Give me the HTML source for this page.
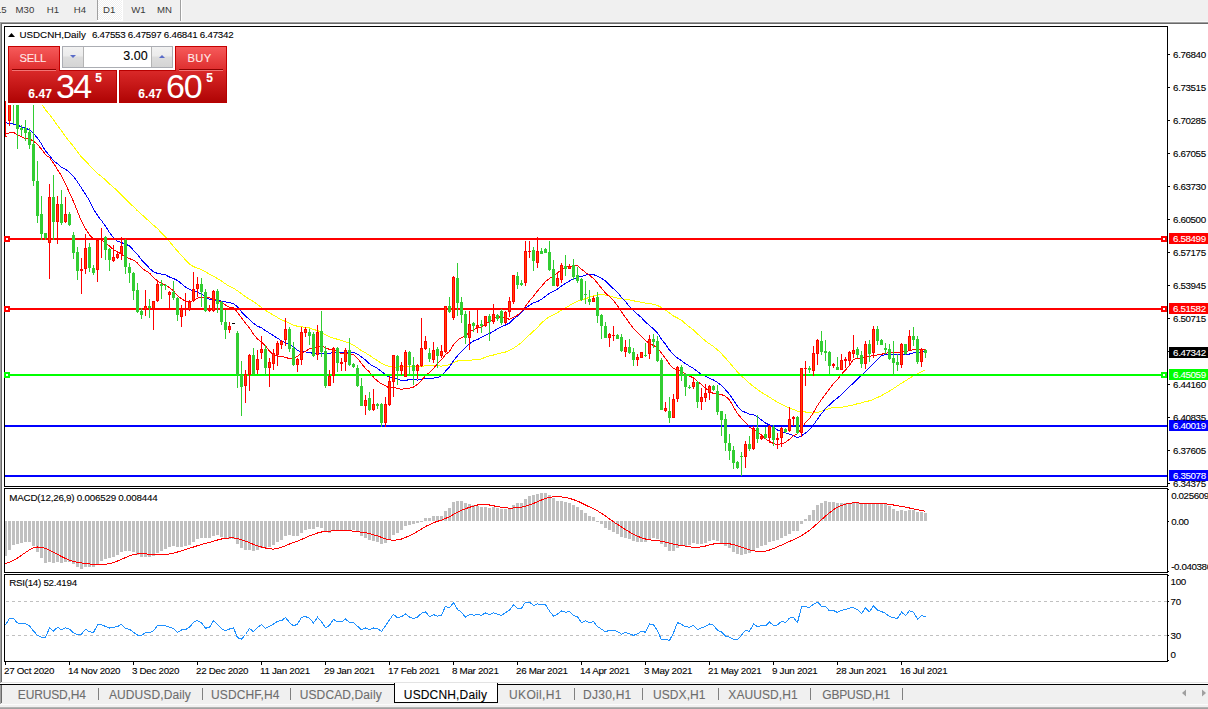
<!DOCTYPE html>
<html><head><meta charset="utf-8"><title>USDCNH,Daily</title>
<style>
html,body{margin:0;padding:0;background:#fff;width:1208px;height:709px;overflow:hidden;position:relative}
.ns{-webkit-text-stroke:0 !important}
.t{position:absolute;white-space:nowrap;font-family:"Liberation Sans",sans-serif;line-height:1;-webkit-text-stroke:0.1px currentColor}
</style></head><body>
<svg width="1208" height="709" viewBox="0 0 1208 709" shape-rendering="crispEdges" style="position:absolute;left:0;top:0">
<rect x="0" y="0" width="1208" height="22" fill="#f0f0f0"/>
<defs><pattern id="chk" width="2" height="2" patternUnits="userSpaceOnUse"><rect width="2" height="2" fill="#f0f0f0"/><rect width="1" height="1" fill="#ffffff"/><rect x="1" y="1" width="1" height="1" fill="#ffffff"/></pattern>
<linearGradient id="gsellTop" x1="0" y1="0" x2="0" y2="1"><stop offset="0" stop-color="#f65a5a"/><stop offset="1" stop-color="#de2e2e"/></linearGradient>
<linearGradient id="gprice" x1="0" y1="0" x2="0" y2="1"><stop offset="0" stop-color="#d92828"/><stop offset="1" stop-color="#b00404"/></linearGradient>
<linearGradient id="gbtn" x1="0" y1="0" x2="0" y2="1"><stop offset="0" stop-color="#f2f2f2"/><stop offset="0.45" stop-color="#ebebeb"/><stop offset="0.5" stop-color="#dddddd"/><stop offset="1" stop-color="#d4d4d4"/></linearGradient>
<clipPath id="cmain"><rect x="5" y="27" width="1162" height="459"/></clipPath>
<clipPath id="cmacd"><rect x="5" y="489" width="1162" height="83"/></clipPath>
<clipPath id="crsi"><rect x="5" y="575" width="1162" height="86"/></clipPath>
</defs>
<rect x="97" y="0" width="1" height="20" fill="#a0a0a0"/>
<rect x="98" y="0" width="24" height="20" fill="url(#chk)"/>
<rect x="122" y="0" width="1" height="21" fill="#ffffff"/>
<rect x="97" y="20" width="26" height="1" fill="#ffffff"/>
<rect x="180" y="0" width="1" height="21" fill="#a0a0a0"/>
<rect x="181" y="0" width="1" height="21" fill="#ffffff"/>
<rect x="0" y="21" width="1208" height="1" fill="#f8f8f8"/>
<rect x="0" y="22" width="1208" height="1" fill="#a0a0a0"/>
<rect x="1" y="23" width="1207" height="1" fill="#696969"/>
<rect x="0" y="22" width="1" height="661" fill="#a0a0a0"/>
<rect x="1" y="23" width="1" height="659" fill="#696969"/>
<rect x="1" y="682" width="1207" height="1" fill="#e3e3e3"/>
<rect x="4.5" y="26.5" width="1163" height="460" fill="none" stroke="#000" stroke-width="1"/>
<rect x="4.5" y="488.5" width="1163" height="84" fill="none" stroke="#000" stroke-width="1"/>
<rect x="4.5" y="574.5" width="1163" height="87" fill="none" stroke="#000" stroke-width="1"/>
<g clip-path="url(#cmain)">
<polyline points="5.5,76.8 9.5,79.0 13.5,81.0 17.5,83.5 21.5,85.9 25.5,88.1 29.5,90.9 33.5,93.8 37.5,98.4 41.5,103.6 45.5,109.8 49.5,114.5 53.5,119.9 57.5,125.5 61.5,130.9 65.5,136.5 69.5,141.6 73.5,146.3 77.5,152.0 81.5,157.0 85.5,160.9 89.5,165.3 93.5,169.4 97.5,173.4 101.5,176.6 105.5,179.9 109.5,183.9 113.5,187.3 117.5,190.9 121.5,194.8 125.5,198.9 129.5,203.0 133.5,206.7 137.5,210.8 141.5,214.4 145.5,217.9 149.5,221.6 153.5,225.2 157.5,228.6 161.5,233.0 165.5,236.8 169.5,241.6 173.5,246.4 177.5,251.1 181.5,255.6 185.5,259.9 189.5,263.9 193.5,266.6 197.5,268.2 201.5,269.7 205.5,271.5 209.5,274.3 213.5,276.1 217.5,278.6 221.5,281.0 225.5,283.9 229.5,286.4 233.5,288.2 237.5,290.8 241.5,293.8 245.5,296.9 249.5,299.1 253.5,301.6 257.5,304.6 261.5,307.4 265.5,310.3 269.5,312.9 273.5,315.2 277.5,317.5 281.5,319.9 285.5,321.4 289.5,323.3 293.5,325.1 297.5,326.3 301.5,326.8 305.5,327.3 309.5,328.0 313.5,329.4 317.5,330.6 321.5,332.2 325.5,334.8 329.5,336.9 333.5,338.1 337.5,339.3 341.5,340.6 345.5,341.7 349.5,343.2 353.5,345.2 357.5,347.8 361.5,350.6 365.5,352.8 369.5,355.4 373.5,358.2 377.5,360.7 381.5,363.2 385.5,365.1 389.5,366.5 393.5,367.3 397.5,367.2 401.5,366.6 405.5,366.1 409.5,366.3 413.5,366.2 417.5,366.4 421.5,366.4 425.5,365.7 429.5,365.6 433.5,365.6 437.5,365.9 441.5,366.1 445.5,365.6 449.5,364.6 453.5,362.4 457.5,361.0 461.5,360.6 465.5,360.8 469.5,360.5 473.5,359.8 477.5,359.6 481.5,358.9 485.5,357.2 489.5,355.9 493.5,355.0 497.5,353.9 501.5,352.9 505.5,352.0 509.5,350.4 513.5,348.1 517.5,345.6 521.5,342.5 525.5,338.8 529.5,334.8 533.5,331.2 537.5,327.4 541.5,323.1 545.5,319.4 549.5,316.6 553.5,314.9 557.5,312.6 561.5,310.1 565.5,308.0 569.5,305.5 573.5,303.1 577.5,301.1 581.5,299.9 585.5,298.7 589.5,297.3 593.5,296.0 597.5,295.0 601.5,294.4 605.5,295.1 609.5,295.7 613.5,297.1 617.5,298.1 621.5,298.9 625.5,299.2 629.5,299.9 633.5,300.8 637.5,301.6 641.5,302.2 645.5,303.2 649.5,303.6 653.5,304.3 657.5,305.4 661.5,307.6 665.5,309.9 669.5,312.9 673.5,316.0 677.5,318.0 681.5,320.3 685.5,323.7 689.5,327.1 693.5,330.1 697.5,333.9 701.5,337.5 705.5,341.0 709.5,343.9 713.5,346.5 717.5,349.8 721.5,353.7 725.5,358.1 729.5,362.7 733.5,367.3 737.5,372.0 741.5,375.9 745.5,379.6 749.5,383.3 753.5,386.6 757.5,389.6 761.5,392.4 765.5,394.9 769.5,397.2 773.5,399.8 777.5,402.3 781.5,404.2 785.5,406.4 789.5,408.0 793.5,409.4 797.5,411.3 801.5,411.7 805.5,412.0 809.5,412.8 813.5,413.1 817.5,412.6 821.5,411.1 825.5,409.7 829.5,408.4 833.5,407.6 837.5,407.6 841.5,407.2 845.5,406.6 849.5,405.6 853.5,404.9 857.5,403.7 861.5,402.9 865.5,401.6 869.5,400.8 873.5,399.3 877.5,397.5 881.5,395.6 885.5,393.3 889.5,391.0 893.5,388.5 897.5,385.9 901.5,383.1 905.5,380.9 909.5,378.1 913.5,375.9 917.5,373.9 921.5,371.8 925.5,369.6" fill="none" stroke="#ffff00" stroke-width="1"/>
<polyline points="5.5,122.9 9.5,123.3 13.5,124.0 17.5,124.9 21.5,127.2 25.5,128.3 29.5,129.7 33.5,133.5 37.5,138.1 41.5,144.0 45.5,151.0 49.5,155.4 53.5,160.8 57.5,163.8 61.5,167.4 65.5,169.3 69.5,172.2 73.5,176.5 77.5,182.0 81.5,187.9 85.5,194.4 89.5,200.6 93.5,208.9 97.5,215.4 101.5,220.6 105.5,226.3 109.5,232.4 113.5,237.7 117.5,241.2 121.5,242.6 125.5,244.2 129.5,245.8 133.5,250.3 137.5,254.6 141.5,259.9 145.5,263.8 149.5,268.3 153.5,271.9 157.5,273.4 161.5,274.1 165.5,274.9 169.5,277.0 173.5,278.5 177.5,280.5 181.5,283.7 185.5,287.1 189.5,289.5 193.5,290.9 197.5,292.2 201.5,294.0 205.5,297.1 209.5,299.1 213.5,300.0 217.5,300.6 221.5,301.1 225.5,301.8 229.5,302.7 233.5,303.5 237.5,307.0 241.5,311.9 245.5,316.1 249.5,319.4 253.5,323.3 257.5,326.2 261.5,327.8 265.5,330.6 269.5,333.2 273.5,335.6 277.5,338.2 281.5,340.9 285.5,342.6 289.5,344.5 293.5,347.1 297.5,350.4 301.5,351.7 305.5,352.0 309.5,352.3 313.5,353.7 317.5,354.2 321.5,353.1 325.5,353.0 329.5,353.1 333.5,352.8 337.5,352.3 341.5,352.4 345.5,352.5 349.5,352.3 353.5,352.5 357.5,354.1 361.5,357.1 365.5,359.9 369.5,363.8 373.5,366.4 377.5,368.4 381.5,371.4 385.5,374.8 389.5,377.3 393.5,378.2 397.5,378.9 401.5,380.5 405.5,380.5 409.5,379.5 413.5,379.3 417.5,380.1 421.5,379.4 425.5,378.4 429.5,378.8 433.5,378.1 437.5,377.5 441.5,375.9 445.5,371.1 449.5,366.9 453.5,360.6 457.5,355.8 461.5,351.5 465.5,347.4 469.5,343.6 473.5,341.0 477.5,339.5 481.5,337.4 485.5,335.1 489.5,333.6 493.5,331.2 497.5,328.7 501.5,326.7 505.5,325.0 509.5,323.1 513.5,319.1 517.5,316.0 521.5,312.6 525.5,307.9 529.5,305.3 533.5,302.8 537.5,301.6 541.5,299.3 545.5,296.3 549.5,293.1 553.5,291.3 557.5,289.0 561.5,286.1 565.5,283.4 569.5,281.0 573.5,278.9 577.5,277.3 581.5,276.4 585.5,275.1 589.5,274.6 593.5,274.5 597.5,276.4 601.5,278.4 605.5,280.9 609.5,284.8 613.5,288.8 617.5,292.5 621.5,297.3 625.5,301.7 629.5,306.5 633.5,310.8 637.5,314.2 641.5,317.7 645.5,322.0 649.5,325.4 653.5,329.0 657.5,333.0 661.5,339.1 665.5,344.3 669.5,350.1 673.5,354.7 677.5,358.0 681.5,360.8 685.5,363.7 689.5,366.1 693.5,368.4 697.5,371.6 701.5,374.4 705.5,376.4 709.5,378.2 713.5,380.0 717.5,382.5 721.5,385.5 725.5,389.8 729.5,394.3 733.5,400.2 737.5,406.2 741.5,410.8 745.5,412.4 749.5,414.4 753.5,414.8 757.5,416.7 761.5,420.0 765.5,423.0 769.5,424.9 773.5,427.4 777.5,430.0 781.5,431.3 785.5,432.9 789.5,434.2 793.5,435.6 797.5,437.7 801.5,435.6 805.5,433.1 809.5,429.6 813.5,425.0 817.5,419.1 821.5,413.6 825.5,408.6 829.5,404.9 833.5,400.9 837.5,398.1 841.5,394.4 845.5,390.7 849.5,386.6 853.5,383.0 857.5,378.9 861.5,375.4 865.5,371.4 869.5,367.7 873.5,363.4 877.5,359.8 881.5,355.6 885.5,354.7 889.5,354.3 893.5,354.0 897.5,354.5 901.5,354.7 905.5,354.8 909.5,354.0 913.5,352.8 917.5,352.7 921.5,351.7 925.5,351.4" fill="none" stroke="#0000ff" stroke-width="1"/>
<polyline points="5.5,134.3 9.5,132.8 13.5,132.3 17.5,135.0 21.5,136.9 25.5,138.6 29.5,138.9 33.5,141.2 37.5,144.3 41.5,149.2 45.5,154.7 49.5,157.6 53.5,163.1 57.5,169.6 61.5,175.9 65.5,184.0 69.5,192.7 73.5,201.6 77.5,211.6 81.5,221.4 85.5,228.7 89.5,234.9 93.5,239.0 97.5,239.4 101.5,239.4 105.5,243.2 109.5,245.9 113.5,249.7 117.5,251.9 121.5,254.2 125.5,257.2 129.5,258.6 133.5,260.1 137.5,263.1 141.5,267.9 145.5,270.6 149.5,273.1 153.5,277.5 157.5,280.8 161.5,283.4 165.5,285.2 169.5,287.7 173.5,290.9 177.5,295.8 181.5,298.8 185.5,301.3 189.5,302.1 193.5,300.4 197.5,298.2 201.5,297.2 205.5,297.4 209.5,298.0 213.5,298.5 217.5,299.8 221.5,302.4 225.5,305.1 229.5,307.1 233.5,307.6 237.5,312.4 241.5,318.0 245.5,323.1 249.5,327.9 253.5,334.3 257.5,339.1 261.5,341.8 265.5,346.0 269.5,351.1 273.5,354.6 277.5,356.1 281.5,356.9 285.5,357.1 289.5,358.9 293.5,358.2 297.5,356.2 301.5,353.2 305.5,351.4 309.5,348.6 313.5,348.4 317.5,347.2 321.5,346.1 325.5,347.8 329.5,349.4 333.5,349.8 337.5,351.4 341.5,353.7 345.5,353.8 349.5,353.8 353.5,354.4 357.5,358.2 361.5,363.7 365.5,368.3 369.5,372.1 373.5,377.3 377.5,381.1 381.5,383.8 385.5,385.8 389.5,388.1 393.5,387.6 397.5,388.2 401.5,389.3 405.5,388.4 409.5,388.2 413.5,387.1 417.5,384.2 421.5,380.5 425.5,375.6 429.5,372.4 433.5,368.4 437.5,363.6 441.5,359.8 445.5,354.4 449.5,351.4 453.5,344.6 457.5,340.2 461.5,337.6 465.5,335.6 469.5,332.3 473.5,329.5 477.5,327.9 481.5,326.8 485.5,323.7 489.5,321.7 493.5,318.7 497.5,316.4 501.5,317.6 505.5,317.6 509.5,319.4 513.5,317.4 517.5,315.2 521.5,311.4 525.5,306.2 529.5,300.9 533.5,296.3 537.5,290.9 541.5,286.5 545.5,281.6 549.5,278.4 553.5,276.1 557.5,272.9 561.5,269.5 565.5,267.2 569.5,266.6 573.5,266.0 577.5,265.7 581.5,269.2 585.5,272.4 589.5,275.3 593.5,278.6 597.5,283.1 601.5,288.3 605.5,293.1 609.5,296.6 613.5,300.6 617.5,305.9 621.5,311.8 625.5,317.6 629.5,323.0 633.5,328.6 637.5,332.7 641.5,336.8 645.5,340.6 649.5,343.6 653.5,345.4 657.5,347.9 661.5,353.1 665.5,358.4 669.5,364.3 673.5,368.6 677.5,369.7 681.5,371.7 685.5,374.1 689.5,376.1 693.5,377.9 697.5,381.5 701.5,384.4 705.5,388.3 709.5,391.4 713.5,393.5 717.5,393.6 721.5,394.5 725.5,396.3 729.5,400.0 733.5,406.9 737.5,413.5 741.5,418.5 745.5,422.5 749.5,427.3 753.5,429.1 757.5,432.1 761.5,435.2 765.5,438.9 769.5,441.5 773.5,443.5 777.5,444.8 781.5,443.7 785.5,442.4 789.5,439.2 793.5,435.6 797.5,433.9 801.5,428.4 805.5,422.6 809.5,418.5 813.5,412.4 817.5,405.5 821.5,399.4 825.5,394.1 829.5,388.9 833.5,383.6 837.5,379.4 841.5,374.3 845.5,370.0 849.5,365.4 853.5,359.4 857.5,358.5 861.5,358.2 865.5,356.4 869.5,356.4 873.5,355.6 877.5,354.9 881.5,354.3 885.5,353.1 889.5,352.8 893.5,352.3 897.5,352.6 901.5,351.6 905.5,351.7 909.5,350.7 913.5,349.6 917.5,349.5 921.5,349.9 925.5,349.8" fill="none" stroke="#ff0000" stroke-width="1"/>
<rect x="10" y="238" width="1151" height="2" fill="#ff0000"/>
<rect x="10" y="308" width="1151" height="2" fill="#ff0000"/>
<rect x="10" y="374" width="1151" height="2" fill="#00ff00"/>
<rect x="5" y="425" width="1162" height="2" fill="#0000ff"/>
<rect x="5" y="475" width="1162" height="2" fill="#0000ff"/>
<path d="M4 236h6v6h-6z M6 238v2h2v-2z" fill="#ff0000" fill-rule="evenodd"/>
<path d="M1161 236h6v6h-6z M1163 238v2h2v-2z" fill="#ff0000" fill-rule="evenodd"/>
<path d="M4 306h6v6h-6z M6 308v2h2v-2z" fill="#ff0000" fill-rule="evenodd"/>
<path d="M1161 306h6v6h-6z M1163 308v2h2v-2z" fill="#ff0000" fill-rule="evenodd"/>
<path d="M4 372h6v6h-6z M6 374v2h2v-2z" fill="#00ff00" fill-rule="evenodd"/>
<path d="M1161 372h6v6h-6z M1163 374v2h2v-2z" fill="#00ff00" fill-rule="evenodd"/>
<rect x="5" y="101" width="1" height="36" fill="#ff0000"/>
<rect x="4" y="136" width="3" height="1" fill="#ff0000"/>
<rect x="9" y="100" width="1" height="26" fill="#ff0000"/>
<rect x="8" y="100" width="3" height="21" fill="#ff0000"/>
<rect x="9" y="101" width="1" height="19" fill="#ff4500"/>
<rect x="13" y="98" width="1" height="26" fill="#32cd32"/>
<rect x="12" y="98" width="3" height="5" fill="#32cd32"/>
<rect x="17" y="100" width="1" height="49" fill="#32cd32"/>
<rect x="16" y="100" width="3" height="29" fill="#32cd32"/>
<rect x="21" y="125" width="1" height="11" fill="#32cd32"/>
<rect x="20" y="128" width="3" height="2" fill="#32cd32"/>
<rect x="25" y="120" width="1" height="21" fill="#32cd32"/>
<rect x="24" y="128" width="3" height="5" fill="#32cd32"/>
<rect x="29" y="128" width="1" height="21" fill="#32cd32"/>
<rect x="28" y="132" width="3" height="13" fill="#32cd32"/>
<rect x="33" y="100" width="1" height="86" fill="#32cd32"/>
<rect x="32" y="144" width="3" height="37" fill="#32cd32"/>
<rect x="37" y="161" width="1" height="62" fill="#32cd32"/>
<rect x="36" y="181" width="3" height="35" fill="#32cd32"/>
<rect x="41" y="196" width="1" height="44" fill="#32cd32"/>
<rect x="40" y="214" width="3" height="20" fill="#32cd32"/>
<rect x="45" y="233" width="1" height="7" fill="#32cd32"/>
<rect x="44" y="233" width="3" height="5" fill="#32cd32"/>
<rect x="49" y="184" width="1" height="95" fill="#ff0000"/>
<rect x="48" y="197" width="3" height="46" fill="#ff0000"/>
<rect x="49" y="198" width="1" height="44" fill="#ff4500"/>
<rect x="53" y="175" width="1" height="65" fill="#32cd32"/>
<rect x="52" y="197" width="3" height="25" fill="#32cd32"/>
<rect x="57" y="196" width="1" height="48" fill="#ff0000"/>
<rect x="56" y="204" width="3" height="18" fill="#ff0000"/>
<rect x="57" y="205" width="1" height="16" fill="#ff4500"/>
<rect x="61" y="190" width="1" height="35" fill="#32cd32"/>
<rect x="60" y="204" width="3" height="19" fill="#32cd32"/>
<rect x="65" y="197" width="1" height="26" fill="#ff0000"/>
<rect x="64" y="214" width="3" height="8" fill="#ff0000"/>
<rect x="65" y="215" width="1" height="6" fill="#ff4500"/>
<rect x="69" y="212" width="1" height="14" fill="#32cd32"/>
<rect x="68" y="214" width="3" height="11" fill="#32cd32"/>
<rect x="73" y="232" width="1" height="27" fill="#32cd32"/>
<rect x="72" y="235" width="3" height="18" fill="#32cd32"/>
<rect x="77" y="247" width="1" height="33" fill="#32cd32"/>
<rect x="76" y="252" width="3" height="19" fill="#32cd32"/>
<rect x="81" y="258" width="1" height="36" fill="#ff0000"/>
<rect x="80" y="269" width="3" height="2" fill="#ff0000"/>
<rect x="85" y="234" width="1" height="40" fill="#ff0000"/>
<rect x="84" y="248" width="3" height="21" fill="#ff0000"/>
<rect x="85" y="249" width="1" height="19" fill="#ff4500"/>
<rect x="89" y="243" width="1" height="29" fill="#32cd32"/>
<rect x="88" y="247" width="3" height="21" fill="#32cd32"/>
<rect x="93" y="265" width="1" height="10" fill="#32cd32"/>
<rect x="92" y="268" width="3" height="5" fill="#32cd32"/>
<rect x="97" y="238" width="1" height="44" fill="#ff0000"/>
<rect x="96" y="240" width="3" height="30" fill="#ff0000"/>
<rect x="97" y="241" width="1" height="28" fill="#ff4500"/>
<rect x="101" y="228" width="1" height="30" fill="#ff0000"/>
<rect x="100" y="238" width="3" height="2" fill="#ff0000"/>
<rect x="105" y="236" width="1" height="24" fill="#32cd32"/>
<rect x="104" y="237" width="3" height="13" fill="#32cd32"/>
<rect x="109" y="248" width="1" height="23" fill="#32cd32"/>
<rect x="108" y="249" width="3" height="11" fill="#32cd32"/>
<rect x="113" y="245" width="1" height="17" fill="#ff0000"/>
<rect x="112" y="257" width="3" height="4" fill="#ff0000"/>
<rect x="113" y="258" width="1" height="2" fill="#ff4500"/>
<rect x="117" y="251" width="1" height="8" fill="#ff0000"/>
<rect x="116" y="254" width="3" height="4" fill="#ff0000"/>
<rect x="117" y="255" width="1" height="2" fill="#ff4500"/>
<rect x="121" y="237" width="1" height="23" fill="#ff0000"/>
<rect x="120" y="246" width="3" height="8" fill="#ff0000"/>
<rect x="121" y="247" width="1" height="6" fill="#ff4500"/>
<rect x="125" y="239" width="1" height="35" fill="#32cd32"/>
<rect x="124" y="240" width="3" height="27" fill="#32cd32"/>
<rect x="129" y="263" width="1" height="20" fill="#32cd32"/>
<rect x="128" y="267" width="3" height="6" fill="#32cd32"/>
<rect x="133" y="272" width="1" height="28" fill="#32cd32"/>
<rect x="132" y="273" width="3" height="18" fill="#32cd32"/>
<rect x="137" y="283" width="1" height="30" fill="#32cd32"/>
<rect x="136" y="290" width="3" height="22" fill="#32cd32"/>
<rect x="141" y="308" width="1" height="11" fill="#32cd32"/>
<rect x="140" y="311" width="3" height="4" fill="#32cd32"/>
<rect x="145" y="290" width="1" height="26" fill="#ff0000"/>
<rect x="144" y="306" width="3" height="4" fill="#ff0000"/>
<rect x="145" y="307" width="1" height="2" fill="#ff4500"/>
<rect x="149" y="299" width="1" height="19" fill="#32cd32"/>
<rect x="148" y="306" width="3" height="2" fill="#32cd32"/>
<rect x="153" y="301" width="1" height="29" fill="#ff0000"/>
<rect x="152" y="301" width="3" height="8" fill="#ff0000"/>
<rect x="153" y="302" width="1" height="6" fill="#ff4500"/>
<rect x="157" y="280" width="1" height="22" fill="#ff0000"/>
<rect x="156" y="284" width="3" height="17" fill="#ff0000"/>
<rect x="157" y="285" width="1" height="15" fill="#ff4500"/>
<rect x="161" y="280" width="1" height="19" fill="#32cd32"/>
<rect x="160" y="284" width="3" height="2" fill="#32cd32"/>
<rect x="165" y="284" width="1" height="6" fill="#32cd32"/>
<rect x="164" y="285" width="3" height="1" fill="#32cd32"/>
<rect x="169" y="291" width="1" height="17" fill="#ff0000"/>
<rect x="168" y="292" width="3" height="3" fill="#ff0000"/>
<rect x="169" y="293" width="1" height="1" fill="#ff4500"/>
<rect x="173" y="281" width="1" height="19" fill="#32cd32"/>
<rect x="172" y="292" width="3" height="6" fill="#32cd32"/>
<rect x="177" y="297" width="1" height="24" fill="#32cd32"/>
<rect x="176" y="298" width="3" height="17" fill="#32cd32"/>
<rect x="181" y="305" width="1" height="22" fill="#ff0000"/>
<rect x="180" y="309" width="3" height="8" fill="#ff0000"/>
<rect x="181" y="310" width="1" height="6" fill="#ff4500"/>
<rect x="185" y="293" width="1" height="23" fill="#ff0000"/>
<rect x="184" y="308" width="3" height="2" fill="#ff0000"/>
<rect x="189" y="300" width="1" height="11" fill="#ff0000"/>
<rect x="188" y="302" width="3" height="8" fill="#ff0000"/>
<rect x="189" y="303" width="1" height="6" fill="#ff4500"/>
<rect x="193" y="272" width="1" height="30" fill="#ff0000"/>
<rect x="192" y="289" width="3" height="12" fill="#ff0000"/>
<rect x="193" y="290" width="1" height="10" fill="#ff4500"/>
<rect x="197" y="277" width="1" height="20" fill="#ff0000"/>
<rect x="196" y="284" width="3" height="5" fill="#ff0000"/>
<rect x="197" y="285" width="1" height="3" fill="#ff4500"/>
<rect x="201" y="278" width="1" height="29" fill="#32cd32"/>
<rect x="200" y="284" width="3" height="8" fill="#32cd32"/>
<rect x="205" y="289" width="1" height="23" fill="#32cd32"/>
<rect x="204" y="292" width="3" height="19" fill="#32cd32"/>
<rect x="209" y="305" width="1" height="7" fill="#ff0000"/>
<rect x="208" y="309" width="3" height="2" fill="#ff0000"/>
<rect x="213" y="290" width="1" height="22" fill="#ff0000"/>
<rect x="212" y="291" width="3" height="20" fill="#ff0000"/>
<rect x="213" y="292" width="1" height="18" fill="#ff4500"/>
<rect x="217" y="289" width="1" height="24" fill="#32cd32"/>
<rect x="216" y="291" width="3" height="13" fill="#32cd32"/>
<rect x="221" y="301" width="1" height="24" fill="#32cd32"/>
<rect x="220" y="302" width="3" height="20" fill="#32cd32"/>
<rect x="225" y="310" width="1" height="29" fill="#32cd32"/>
<rect x="224" y="322" width="3" height="8" fill="#32cd32"/>
<rect x="229" y="322" width="1" height="11" fill="#ff0000"/>
<rect x="228" y="326" width="3" height="4" fill="#ff0000"/>
<rect x="229" y="327" width="1" height="2" fill="#ff4500"/>
<rect x="232" y="323" width="3" height="1" fill="#000"/>
<rect x="237" y="331" width="1" height="57" fill="#32cd32"/>
<rect x="236" y="333" width="3" height="42" fill="#32cd32"/>
<rect x="241" y="361" width="1" height="55" fill="#32cd32"/>
<rect x="240" y="375" width="3" height="12" fill="#32cd32"/>
<rect x="245" y="370" width="1" height="33" fill="#ff0000"/>
<rect x="244" y="374" width="3" height="12" fill="#ff0000"/>
<rect x="245" y="375" width="1" height="10" fill="#ff4500"/>
<rect x="249" y="354" width="1" height="37" fill="#ff0000"/>
<rect x="248" y="355" width="3" height="20" fill="#ff0000"/>
<rect x="249" y="356" width="1" height="18" fill="#ff4500"/>
<rect x="253" y="348" width="1" height="27" fill="#32cd32"/>
<rect x="252" y="355" width="3" height="19" fill="#32cd32"/>
<rect x="257" y="350" width="1" height="24" fill="#ff0000"/>
<rect x="256" y="359" width="3" height="11" fill="#ff0000"/>
<rect x="257" y="360" width="1" height="9" fill="#ff4500"/>
<rect x="261" y="336" width="1" height="23" fill="#ff0000"/>
<rect x="260" y="349" width="3" height="4" fill="#ff0000"/>
<rect x="261" y="350" width="1" height="2" fill="#ff4500"/>
<rect x="265" y="345" width="1" height="30" fill="#32cd32"/>
<rect x="264" y="349" width="3" height="19" fill="#32cd32"/>
<rect x="269" y="358" width="1" height="29" fill="#ff0000"/>
<rect x="268" y="362" width="3" height="6" fill="#ff0000"/>
<rect x="269" y="363" width="1" height="4" fill="#ff4500"/>
<rect x="273" y="349" width="1" height="21" fill="#ff0000"/>
<rect x="272" y="353" width="3" height="11" fill="#ff0000"/>
<rect x="273" y="354" width="1" height="9" fill="#ff4500"/>
<rect x="277" y="341" width="1" height="25" fill="#ff0000"/>
<rect x="276" y="343" width="3" height="12" fill="#ff0000"/>
<rect x="277" y="344" width="1" height="10" fill="#ff4500"/>
<rect x="281" y="340" width="1" height="9" fill="#ff0000"/>
<rect x="280" y="341" width="3" height="4" fill="#ff0000"/>
<rect x="281" y="342" width="1" height="2" fill="#ff4500"/>
<rect x="285" y="318" width="1" height="28" fill="#ff0000"/>
<rect x="284" y="329" width="3" height="11" fill="#ff0000"/>
<rect x="285" y="330" width="1" height="9" fill="#ff4500"/>
<rect x="289" y="327" width="1" height="25" fill="#32cd32"/>
<rect x="288" y="329" width="3" height="20" fill="#32cd32"/>
<rect x="293" y="342" width="1" height="24" fill="#32cd32"/>
<rect x="292" y="348" width="3" height="17" fill="#32cd32"/>
<rect x="297" y="358" width="1" height="14" fill="#ff0000"/>
<rect x="296" y="359" width="3" height="6" fill="#ff0000"/>
<rect x="297" y="360" width="1" height="4" fill="#ff4500"/>
<rect x="301" y="327" width="1" height="38" fill="#ff0000"/>
<rect x="300" y="332" width="3" height="28" fill="#ff0000"/>
<rect x="301" y="333" width="1" height="26" fill="#ff4500"/>
<rect x="305" y="327" width="1" height="10" fill="#ff0000"/>
<rect x="304" y="329" width="3" height="4" fill="#ff0000"/>
<rect x="305" y="330" width="1" height="2" fill="#ff4500"/>
<rect x="309" y="329" width="1" height="16" fill="#32cd32"/>
<rect x="308" y="332" width="3" height="4" fill="#32cd32"/>
<rect x="313" y="332" width="1" height="25" fill="#32cd32"/>
<rect x="312" y="334" width="3" height="22" fill="#32cd32"/>
<rect x="317" y="325" width="1" height="35" fill="#ff0000"/>
<rect x="316" y="332" width="3" height="23" fill="#ff0000"/>
<rect x="317" y="333" width="1" height="21" fill="#ff4500"/>
<rect x="321" y="311" width="1" height="46" fill="#32cd32"/>
<rect x="320" y="331" width="3" height="21" fill="#32cd32"/>
<rect x="325" y="346" width="1" height="42" fill="#32cd32"/>
<rect x="324" y="351" width="3" height="35" fill="#32cd32"/>
<rect x="329" y="370" width="1" height="16" fill="#ff0000"/>
<rect x="328" y="376" width="3" height="10" fill="#ff0000"/>
<rect x="329" y="377" width="1" height="8" fill="#ff4500"/>
<rect x="333" y="347" width="1" height="36" fill="#ff0000"/>
<rect x="332" y="348" width="3" height="28" fill="#ff0000"/>
<rect x="333" y="349" width="1" height="26" fill="#ff4500"/>
<rect x="337" y="347" width="1" height="25" fill="#32cd32"/>
<rect x="336" y="348" width="3" height="15" fill="#32cd32"/>
<rect x="341" y="358" width="1" height="13" fill="#ff0000"/>
<rect x="340" y="362" width="3" height="2" fill="#ff0000"/>
<rect x="345" y="348" width="1" height="23" fill="#ff0000"/>
<rect x="344" y="350" width="3" height="12" fill="#ff0000"/>
<rect x="345" y="351" width="1" height="10" fill="#ff4500"/>
<rect x="349" y="338" width="1" height="28" fill="#32cd32"/>
<rect x="348" y="350" width="3" height="15" fill="#32cd32"/>
<rect x="353" y="363" width="1" height="5" fill="#32cd32"/>
<rect x="352" y="364" width="3" height="3" fill="#32cd32"/>
<rect x="357" y="365" width="1" height="22" fill="#32cd32"/>
<rect x="356" y="368" width="3" height="18" fill="#32cd32"/>
<rect x="361" y="378" width="1" height="28" fill="#32cd32"/>
<rect x="360" y="386" width="3" height="20" fill="#32cd32"/>
<rect x="365" y="395" width="1" height="20" fill="#ff0000"/>
<rect x="364" y="400" width="3" height="6" fill="#ff0000"/>
<rect x="365" y="401" width="1" height="4" fill="#ff4500"/>
<rect x="369" y="392" width="1" height="19" fill="#32cd32"/>
<rect x="368" y="398" width="3" height="12" fill="#32cd32"/>
<rect x="373" y="389" width="1" height="22" fill="#ff0000"/>
<rect x="372" y="404" width="3" height="6" fill="#ff0000"/>
<rect x="373" y="405" width="1" height="4" fill="#ff4500"/>
<rect x="377" y="403" width="1" height="6" fill="#32cd32"/>
<rect x="376" y="404" width="3" height="2" fill="#32cd32"/>
<rect x="381" y="403" width="1" height="24" fill="#32cd32"/>
<rect x="380" y="404" width="3" height="19" fill="#32cd32"/>
<rect x="385" y="397" width="1" height="30" fill="#ff0000"/>
<rect x="384" y="404" width="3" height="19" fill="#ff0000"/>
<rect x="385" y="405" width="1" height="17" fill="#ff4500"/>
<rect x="389" y="376" width="1" height="30" fill="#ff0000"/>
<rect x="388" y="381" width="3" height="24" fill="#ff0000"/>
<rect x="389" y="382" width="1" height="22" fill="#ff4500"/>
<rect x="393" y="355" width="1" height="42" fill="#ff0000"/>
<rect x="392" y="355" width="3" height="27" fill="#ff0000"/>
<rect x="393" y="356" width="1" height="25" fill="#ff4500"/>
<rect x="397" y="355" width="1" height="30" fill="#32cd32"/>
<rect x="396" y="356" width="3" height="15" fill="#32cd32"/>
<rect x="401" y="362" width="1" height="13" fill="#ff0000"/>
<rect x="400" y="365" width="3" height="6" fill="#ff0000"/>
<rect x="401" y="366" width="1" height="4" fill="#ff4500"/>
<rect x="405" y="350" width="1" height="27" fill="#ff0000"/>
<rect x="404" y="352" width="3" height="25" fill="#ff0000"/>
<rect x="405" y="353" width="1" height="23" fill="#ff4500"/>
<rect x="409" y="351" width="1" height="23" fill="#32cd32"/>
<rect x="408" y="352" width="3" height="13" fill="#32cd32"/>
<rect x="413" y="357" width="1" height="28" fill="#32cd32"/>
<rect x="412" y="365" width="3" height="6" fill="#32cd32"/>
<rect x="417" y="364" width="1" height="15" fill="#ff0000"/>
<rect x="416" y="365" width="3" height="6" fill="#ff0000"/>
<rect x="417" y="366" width="1" height="4" fill="#ff4500"/>
<rect x="421" y="318" width="1" height="49" fill="#ff0000"/>
<rect x="420" y="348" width="3" height="18" fill="#ff0000"/>
<rect x="421" y="349" width="1" height="16" fill="#ff4500"/>
<rect x="425" y="336" width="1" height="14" fill="#ff0000"/>
<rect x="424" y="341" width="3" height="8" fill="#ff0000"/>
<rect x="425" y="342" width="1" height="6" fill="#ff4500"/>
<rect x="429" y="348" width="1" height="14" fill="#32cd32"/>
<rect x="428" y="353" width="3" height="6" fill="#32cd32"/>
<rect x="433" y="342" width="1" height="21" fill="#ff0000"/>
<rect x="432" y="350" width="3" height="10" fill="#ff0000"/>
<rect x="433" y="351" width="1" height="8" fill="#ff4500"/>
<rect x="437" y="347" width="1" height="21" fill="#32cd32"/>
<rect x="436" y="349" width="3" height="7" fill="#32cd32"/>
<rect x="441" y="345" width="1" height="13" fill="#ff0000"/>
<rect x="440" y="351" width="3" height="5" fill="#ff0000"/>
<rect x="441" y="352" width="1" height="3" fill="#ff4500"/>
<rect x="445" y="306" width="1" height="47" fill="#ff0000"/>
<rect x="444" y="306" width="3" height="46" fill="#ff0000"/>
<rect x="445" y="307" width="1" height="44" fill="#ff4500"/>
<rect x="449" y="297" width="1" height="16" fill="#32cd32"/>
<rect x="448" y="306" width="3" height="6" fill="#32cd32"/>
<rect x="453" y="276" width="1" height="44" fill="#ff0000"/>
<rect x="452" y="277" width="3" height="41" fill="#ff0000"/>
<rect x="453" y="278" width="1" height="39" fill="#ff4500"/>
<rect x="457" y="263" width="1" height="53" fill="#32cd32"/>
<rect x="456" y="278" width="3" height="25" fill="#32cd32"/>
<rect x="461" y="297" width="1" height="26" fill="#32cd32"/>
<rect x="460" y="302" width="3" height="13" fill="#32cd32"/>
<rect x="465" y="311" width="1" height="33" fill="#32cd32"/>
<rect x="464" y="314" width="3" height="24" fill="#32cd32"/>
<rect x="469" y="311" width="1" height="39" fill="#ff0000"/>
<rect x="468" y="324" width="3" height="14" fill="#ff0000"/>
<rect x="469" y="325" width="1" height="12" fill="#ff4500"/>
<rect x="473" y="322" width="1" height="10" fill="#32cd32"/>
<rect x="472" y="323" width="3" height="3" fill="#32cd32"/>
<rect x="477" y="309" width="1" height="24" fill="#ff0000"/>
<rect x="476" y="325" width="3" height="3" fill="#ff0000"/>
<rect x="477" y="326" width="1" height="1" fill="#ff4500"/>
<rect x="481" y="320" width="1" height="13" fill="#32cd32"/>
<rect x="480" y="324" width="3" height="2" fill="#32cd32"/>
<rect x="485" y="316" width="1" height="11" fill="#ff0000"/>
<rect x="484" y="316" width="3" height="10" fill="#ff0000"/>
<rect x="485" y="317" width="1" height="8" fill="#ff4500"/>
<rect x="489" y="314" width="1" height="27" fill="#32cd32"/>
<rect x="488" y="316" width="3" height="6" fill="#32cd32"/>
<rect x="493" y="304" width="1" height="20" fill="#ff0000"/>
<rect x="492" y="314" width="3" height="8" fill="#ff0000"/>
<rect x="493" y="315" width="1" height="6" fill="#ff4500"/>
<rect x="497" y="314" width="1" height="7" fill="#32cd32"/>
<rect x="496" y="315" width="3" height="4" fill="#32cd32"/>
<rect x="501" y="309" width="1" height="16" fill="#32cd32"/>
<rect x="500" y="311" width="3" height="12" fill="#32cd32"/>
<rect x="505" y="311" width="1" height="13" fill="#ff0000"/>
<rect x="504" y="312" width="3" height="11" fill="#ff0000"/>
<rect x="505" y="313" width="1" height="9" fill="#ff4500"/>
<rect x="509" y="297" width="1" height="20" fill="#ff0000"/>
<rect x="508" y="301" width="3" height="11" fill="#ff0000"/>
<rect x="509" y="302" width="1" height="9" fill="#ff4500"/>
<rect x="513" y="275" width="1" height="29" fill="#ff0000"/>
<rect x="512" y="275" width="3" height="27" fill="#ff0000"/>
<rect x="513" y="276" width="1" height="25" fill="#ff4500"/>
<rect x="517" y="272" width="1" height="17" fill="#32cd32"/>
<rect x="516" y="276" width="3" height="9" fill="#32cd32"/>
<rect x="521" y="280" width="1" height="6" fill="#32cd32"/>
<rect x="520" y="283" width="3" height="2" fill="#32cd32"/>
<rect x="525" y="241" width="1" height="45" fill="#ff0000"/>
<rect x="524" y="251" width="3" height="32" fill="#ff0000"/>
<rect x="525" y="252" width="1" height="30" fill="#ff4500"/>
<rect x="529" y="241" width="1" height="17" fill="#ff0000"/>
<rect x="528" y="251" width="3" height="1" fill="#ff0000"/>
<rect x="533" y="247" width="1" height="24" fill="#32cd32"/>
<rect x="532" y="250" width="3" height="11" fill="#32cd32"/>
<rect x="537" y="237" width="1" height="31" fill="#ff0000"/>
<rect x="536" y="251" width="3" height="12" fill="#ff0000"/>
<rect x="537" y="252" width="1" height="10" fill="#ff4500"/>
<rect x="541" y="248" width="1" height="6" fill="#32cd32"/>
<rect x="540" y="251" width="3" height="3" fill="#32cd32"/>
<rect x="545" y="248" width="1" height="5" fill="#32cd32"/>
<rect x="544" y="249" width="3" height="4" fill="#32cd32"/>
<rect x="549" y="241" width="1" height="30" fill="#32cd32"/>
<rect x="548" y="252" width="3" height="18" fill="#32cd32"/>
<rect x="553" y="260" width="1" height="26" fill="#32cd32"/>
<rect x="552" y="269" width="3" height="17" fill="#32cd32"/>
<rect x="557" y="272" width="1" height="15" fill="#ff0000"/>
<rect x="556" y="278" width="3" height="8" fill="#ff0000"/>
<rect x="557" y="279" width="1" height="6" fill="#ff4500"/>
<rect x="561" y="263" width="1" height="20" fill="#ff0000"/>
<rect x="560" y="265" width="3" height="15" fill="#ff0000"/>
<rect x="561" y="266" width="1" height="13" fill="#ff4500"/>
<rect x="565" y="255" width="1" height="21" fill="#32cd32"/>
<rect x="564" y="266" width="3" height="3" fill="#32cd32"/>
<rect x="569" y="264" width="1" height="5" fill="#ff0000"/>
<rect x="568" y="266" width="3" height="3" fill="#ff0000"/>
<rect x="569" y="267" width="1" height="1" fill="#ff4500"/>
<rect x="573" y="259" width="1" height="21" fill="#32cd32"/>
<rect x="572" y="265" width="3" height="12" fill="#32cd32"/>
<rect x="577" y="267" width="1" height="16" fill="#32cd32"/>
<rect x="576" y="275" width="3" height="6" fill="#32cd32"/>
<rect x="581" y="278" width="1" height="23" fill="#32cd32"/>
<rect x="580" y="279" width="3" height="21" fill="#32cd32"/>
<rect x="585" y="281" width="1" height="23" fill="#32cd32"/>
<rect x="584" y="294" width="3" height="1" fill="#32cd32"/>
<rect x="589" y="290" width="1" height="15" fill="#32cd32"/>
<rect x="588" y="299" width="3" height="3" fill="#32cd32"/>
<rect x="593" y="296" width="1" height="6" fill="#ff0000"/>
<rect x="592" y="298" width="3" height="4" fill="#ff0000"/>
<rect x="593" y="299" width="1" height="2" fill="#ff4500"/>
<rect x="597" y="292" width="1" height="31" fill="#32cd32"/>
<rect x="596" y="297" width="3" height="19" fill="#32cd32"/>
<rect x="601" y="314" width="1" height="25" fill="#32cd32"/>
<rect x="600" y="315" width="3" height="11" fill="#32cd32"/>
<rect x="605" y="322" width="1" height="16" fill="#32cd32"/>
<rect x="604" y="326" width="3" height="12" fill="#32cd32"/>
<rect x="609" y="333" width="1" height="14" fill="#ff0000"/>
<rect x="608" y="334" width="3" height="4" fill="#ff0000"/>
<rect x="609" y="335" width="1" height="2" fill="#ff4500"/>
<rect x="613" y="326" width="1" height="15" fill="#ff0000"/>
<rect x="612" y="335" width="3" height="1" fill="#ff0000"/>
<rect x="617" y="334" width="1" height="5" fill="#32cd32"/>
<rect x="616" y="335" width="3" height="4" fill="#32cd32"/>
<rect x="621" y="334" width="1" height="18" fill="#32cd32"/>
<rect x="620" y="337" width="3" height="14" fill="#32cd32"/>
<rect x="625" y="340" width="1" height="17" fill="#ff0000"/>
<rect x="624" y="347" width="3" height="5" fill="#ff0000"/>
<rect x="625" y="348" width="1" height="3" fill="#ff4500"/>
<rect x="629" y="339" width="1" height="15" fill="#32cd32"/>
<rect x="628" y="347" width="3" height="6" fill="#32cd32"/>
<rect x="633" y="348" width="1" height="18" fill="#32cd32"/>
<rect x="632" y="352" width="3" height="8" fill="#32cd32"/>
<rect x="637" y="354" width="1" height="12" fill="#ff0000"/>
<rect x="636" y="357" width="3" height="3" fill="#ff0000"/>
<rect x="637" y="358" width="1" height="1" fill="#ff4500"/>
<rect x="641" y="352" width="1" height="6" fill="#ff0000"/>
<rect x="640" y="352" width="3" height="6" fill="#ff0000"/>
<rect x="641" y="353" width="1" height="4" fill="#ff4500"/>
<rect x="645" y="343" width="1" height="14" fill="#32cd32"/>
<rect x="644" y="355" width="3" height="1" fill="#32cd32"/>
<rect x="649" y="335" width="1" height="24" fill="#ff0000"/>
<rect x="648" y="339" width="3" height="15" fill="#ff0000"/>
<rect x="649" y="340" width="1" height="13" fill="#ff4500"/>
<rect x="653" y="334" width="1" height="14" fill="#32cd32"/>
<rect x="652" y="339" width="3" height="3" fill="#32cd32"/>
<rect x="657" y="336" width="1" height="26" fill="#32cd32"/>
<rect x="656" y="341" width="3" height="20" fill="#32cd32"/>
<rect x="661" y="358" width="1" height="52" fill="#32cd32"/>
<rect x="660" y="360" width="3" height="50" fill="#32cd32"/>
<rect x="665" y="402" width="1" height="10" fill="#ff0000"/>
<rect x="664" y="408" width="3" height="3" fill="#ff0000"/>
<rect x="665" y="409" width="1" height="1" fill="#ff4500"/>
<rect x="669" y="397" width="1" height="26" fill="#32cd32"/>
<rect x="668" y="411" width="3" height="7" fill="#32cd32"/>
<rect x="673" y="394" width="1" height="24" fill="#ff0000"/>
<rect x="672" y="399" width="3" height="19" fill="#ff0000"/>
<rect x="673" y="400" width="1" height="17" fill="#ff4500"/>
<rect x="677" y="366" width="1" height="36" fill="#ff0000"/>
<rect x="676" y="367" width="3" height="32" fill="#ff0000"/>
<rect x="677" y="368" width="1" height="30" fill="#ff4500"/>
<rect x="681" y="365" width="1" height="16" fill="#32cd32"/>
<rect x="680" y="367" width="3" height="8" fill="#32cd32"/>
<rect x="685" y="373" width="1" height="23" fill="#32cd32"/>
<rect x="684" y="374" width="3" height="13" fill="#32cd32"/>
<rect x="689" y="385" width="1" height="4" fill="#32cd32"/>
<rect x="688" y="387" width="3" height="1" fill="#32cd32"/>
<rect x="693" y="377" width="1" height="12" fill="#ff0000"/>
<rect x="692" y="382" width="3" height="5" fill="#ff0000"/>
<rect x="693" y="383" width="1" height="3" fill="#ff4500"/>
<rect x="697" y="381" width="1" height="27" fill="#32cd32"/>
<rect x="696" y="382" width="3" height="20" fill="#32cd32"/>
<rect x="701" y="388" width="1" height="22" fill="#ff0000"/>
<rect x="700" y="397" width="3" height="5" fill="#ff0000"/>
<rect x="701" y="398" width="1" height="3" fill="#ff4500"/>
<rect x="705" y="384" width="1" height="18" fill="#ff0000"/>
<rect x="704" y="393" width="3" height="5" fill="#ff0000"/>
<rect x="705" y="394" width="1" height="3" fill="#ff4500"/>
<rect x="709" y="385" width="1" height="15" fill="#ff0000"/>
<rect x="708" y="386" width="3" height="7" fill="#ff0000"/>
<rect x="709" y="387" width="1" height="5" fill="#ff4500"/>
<rect x="713" y="385" width="1" height="6" fill="#32cd32"/>
<rect x="712" y="386" width="3" height="4" fill="#32cd32"/>
<rect x="717" y="385" width="1" height="30" fill="#32cd32"/>
<rect x="716" y="391" width="3" height="21" fill="#32cd32"/>
<rect x="721" y="411" width="1" height="25" fill="#32cd32"/>
<rect x="720" y="411" width="3" height="9" fill="#32cd32"/>
<rect x="725" y="414" width="1" height="37" fill="#32cd32"/>
<rect x="724" y="419" width="3" height="24" fill="#32cd32"/>
<rect x="729" y="434" width="1" height="26" fill="#32cd32"/>
<rect x="728" y="443" width="3" height="8" fill="#32cd32"/>
<rect x="733" y="446" width="1" height="23" fill="#32cd32"/>
<rect x="732" y="450" width="3" height="13" fill="#32cd32"/>
<rect x="737" y="461" width="1" height="8" fill="#32cd32"/>
<rect x="736" y="462" width="3" height="6" fill="#32cd32"/>
<rect x="741" y="452" width="1" height="24" fill="#32cd32"/>
<rect x="740" y="456" width="3" height="1" fill="#32cd32"/>
<rect x="745" y="441" width="1" height="27" fill="#ff0000"/>
<rect x="744" y="444" width="3" height="13" fill="#ff0000"/>
<rect x="745" y="445" width="1" height="11" fill="#ff4500"/>
<rect x="749" y="436" width="1" height="15" fill="#32cd32"/>
<rect x="748" y="444" width="3" height="5" fill="#32cd32"/>
<rect x="753" y="426" width="1" height="24" fill="#ff0000"/>
<rect x="752" y="428" width="3" height="21" fill="#ff0000"/>
<rect x="753" y="429" width="1" height="19" fill="#ff4500"/>
<rect x="757" y="415" width="1" height="28" fill="#32cd32"/>
<rect x="756" y="428" width="3" height="11" fill="#32cd32"/>
<rect x="761" y="434" width="1" height="6" fill="#ff0000"/>
<rect x="760" y="436" width="3" height="3" fill="#ff0000"/>
<rect x="761" y="437" width="1" height="1" fill="#ff4500"/>
<rect x="765" y="427" width="1" height="12" fill="#32cd32"/>
<rect x="764" y="434" width="3" height="4" fill="#32cd32"/>
<rect x="769" y="425" width="1" height="18" fill="#ff0000"/>
<rect x="768" y="426" width="3" height="12" fill="#ff0000"/>
<rect x="769" y="427" width="1" height="10" fill="#ff4500"/>
<rect x="773" y="425" width="1" height="21" fill="#32cd32"/>
<rect x="772" y="427" width="3" height="13" fill="#32cd32"/>
<rect x="777" y="433" width="1" height="16" fill="#ff0000"/>
<rect x="776" y="438" width="3" height="2" fill="#ff0000"/>
<rect x="781" y="427" width="1" height="20" fill="#ff0000"/>
<rect x="780" y="428" width="3" height="10" fill="#ff0000"/>
<rect x="781" y="429" width="1" height="8" fill="#ff4500"/>
<rect x="785" y="428" width="1" height="5" fill="#32cd32"/>
<rect x="784" y="429" width="3" height="3" fill="#32cd32"/>
<rect x="789" y="407" width="1" height="25" fill="#ff0000"/>
<rect x="788" y="419" width="3" height="12" fill="#ff0000"/>
<rect x="789" y="420" width="1" height="10" fill="#ff4500"/>
<rect x="793" y="416" width="1" height="10" fill="#ff0000"/>
<rect x="792" y="417" width="3" height="2" fill="#ff0000"/>
<rect x="797" y="416" width="1" height="18" fill="#32cd32"/>
<rect x="796" y="417" width="3" height="16" fill="#32cd32"/>
<rect x="801" y="368" width="1" height="69" fill="#ff0000"/>
<rect x="800" y="368" width="3" height="65" fill="#ff0000"/>
<rect x="801" y="369" width="1" height="63" fill="#ff4500"/>
<rect x="805" y="361" width="1" height="25" fill="#ff0000"/>
<rect x="804" y="368" width="3" height="1" fill="#ff0000"/>
<rect x="809" y="366" width="1" height="7" fill="#32cd32"/>
<rect x="808" y="368" width="3" height="2" fill="#32cd32"/>
<rect x="813" y="346" width="1" height="30" fill="#ff0000"/>
<rect x="812" y="353" width="3" height="18" fill="#ff0000"/>
<rect x="813" y="354" width="1" height="16" fill="#ff4500"/>
<rect x="817" y="339" width="1" height="26" fill="#ff0000"/>
<rect x="816" y="340" width="3" height="14" fill="#ff0000"/>
<rect x="817" y="341" width="1" height="12" fill="#ff4500"/>
<rect x="821" y="331" width="1" height="24" fill="#32cd32"/>
<rect x="820" y="341" width="3" height="11" fill="#32cd32"/>
<rect x="825" y="340" width="1" height="21" fill="#32cd32"/>
<rect x="824" y="351" width="3" height="2" fill="#32cd32"/>
<rect x="829" y="351" width="1" height="23" fill="#32cd32"/>
<rect x="828" y="352" width="3" height="14" fill="#32cd32"/>
<rect x="833" y="363" width="1" height="5" fill="#ff0000"/>
<rect x="832" y="364" width="3" height="2" fill="#ff0000"/>
<rect x="837" y="357" width="1" height="13" fill="#32cd32"/>
<rect x="836" y="367" width="3" height="3" fill="#32cd32"/>
<rect x="841" y="354" width="1" height="16" fill="#ff0000"/>
<rect x="840" y="360" width="3" height="10" fill="#ff0000"/>
<rect x="841" y="361" width="1" height="8" fill="#ff4500"/>
<rect x="845" y="357" width="1" height="11" fill="#ff0000"/>
<rect x="844" y="359" width="3" height="2" fill="#ff0000"/>
<rect x="849" y="351" width="1" height="13" fill="#ff0000"/>
<rect x="848" y="352" width="3" height="9" fill="#ff0000"/>
<rect x="849" y="353" width="1" height="7" fill="#ff4500"/>
<rect x="853" y="335" width="1" height="23" fill="#ff0000"/>
<rect x="852" y="350" width="3" height="4" fill="#ff0000"/>
<rect x="853" y="351" width="1" height="2" fill="#ff4500"/>
<rect x="857" y="347" width="1" height="11" fill="#32cd32"/>
<rect x="856" y="349" width="3" height="6" fill="#32cd32"/>
<rect x="861" y="351" width="1" height="17" fill="#32cd32"/>
<rect x="860" y="355" width="3" height="9" fill="#32cd32"/>
<rect x="865" y="341" width="1" height="28" fill="#ff0000"/>
<rect x="864" y="344" width="3" height="20" fill="#ff0000"/>
<rect x="865" y="345" width="1" height="18" fill="#ff4500"/>
<rect x="869" y="340" width="1" height="22" fill="#32cd32"/>
<rect x="868" y="344" width="3" height="10" fill="#32cd32"/>
<rect x="873" y="326" width="1" height="32" fill="#ff0000"/>
<rect x="872" y="329" width="3" height="24" fill="#ff0000"/>
<rect x="873" y="330" width="1" height="22" fill="#ff4500"/>
<rect x="877" y="326" width="1" height="19" fill="#32cd32"/>
<rect x="876" y="329" width="3" height="12" fill="#32cd32"/>
<rect x="881" y="339" width="1" height="6" fill="#32cd32"/>
<rect x="880" y="340" width="3" height="5" fill="#32cd32"/>
<rect x="885" y="343" width="1" height="11" fill="#32cd32"/>
<rect x="884" y="348" width="3" height="2" fill="#32cd32"/>
<rect x="889" y="344" width="1" height="16" fill="#32cd32"/>
<rect x="888" y="349" width="3" height="10" fill="#32cd32"/>
<rect x="893" y="341" width="1" height="35" fill="#32cd32"/>
<rect x="892" y="358" width="3" height="5" fill="#32cd32"/>
<rect x="897" y="354" width="1" height="17" fill="#32cd32"/>
<rect x="896" y="362" width="3" height="3" fill="#32cd32"/>
<rect x="901" y="343" width="1" height="25" fill="#ff0000"/>
<rect x="900" y="344" width="3" height="21" fill="#ff0000"/>
<rect x="901" y="345" width="1" height="19" fill="#ff4500"/>
<rect x="905" y="344" width="1" height="11" fill="#32cd32"/>
<rect x="904" y="344" width="3" height="10" fill="#32cd32"/>
<rect x="909" y="330" width="1" height="21" fill="#ff0000"/>
<rect x="908" y="336" width="3" height="15" fill="#ff0000"/>
<rect x="909" y="337" width="1" height="13" fill="#ff4500"/>
<rect x="913" y="327" width="1" height="19" fill="#32cd32"/>
<rect x="912" y="336" width="3" height="4" fill="#32cd32"/>
<rect x="917" y="336" width="1" height="28" fill="#32cd32"/>
<rect x="916" y="339" width="3" height="23" fill="#32cd32"/>
<rect x="921" y="348" width="1" height="19" fill="#ff0000"/>
<rect x="920" y="349" width="3" height="13" fill="#ff0000"/>
<rect x="921" y="350" width="1" height="11" fill="#ff4500"/>
<rect x="925" y="349" width="1" height="9" fill="#32cd32"/>
<rect x="924" y="350" width="3" height="3" fill="#32cd32"/>
</g>
<path d="M4 236h6v6h-6z M6 238v2h2v-2z" fill="#ff0000" fill-rule="evenodd"/>
<path d="M4 306h6v6h-6z M6 308v2h2v-2z" fill="#ff0000" fill-rule="evenodd"/>
<path d="M4 372h6v6h-6z M6 374v2h2v-2z" fill="#00ff00" fill-rule="evenodd"/>
<rect x="6" y="27" width="227" height="78" fill="#ffffff"/>
<path d="M8 37h7l-3.5 -4z" fill="#000" shape-rendering="auto"/>
<rect x="8" y="70" width="109" height="33" fill="#b80000"/>
<rect x="119" y="70" width="108" height="33" fill="#b80000"/>
<rect x="8" y="46" width="52" height="25" fill="#c40000"/>
<rect x="175" y="46" width="52" height="25" fill="#c40000"/>
<rect x="9" y="71" width="107" height="31" fill="url(#gprice)"/>
<rect x="120" y="71" width="106" height="31" fill="url(#gprice)"/>
<rect x="9" y="47" width="50" height="23" fill="url(#gsellTop)"/>
<rect x="176" y="47" width="50" height="23" fill="url(#gsellTop)"/>
<rect x="9" y="70" width="50" height="1" fill="#dc2c2c"/>
<rect x="176" y="70" width="50" height="1" fill="#dc2c2c"/>
<rect x="12" y="69" width="44" height="1" fill="#8c0000"/><rect x="12" y="70" width="44" height="1" fill="#f27474"/>
<rect x="179" y="69" width="44" height="1" fill="#8c0000"/><rect x="179" y="70" width="44" height="1" fill="#f27474"/>
<rect x="60" y="44" width="115" height="26" fill="#ffffff"/>
<rect x="62" y="46" width="111" height="22" fill="#abadb3"/>
<rect x="63" y="47" width="109" height="20" fill="#ffffff"/>
<rect x="63" y="47" width="20" height="20" fill="url(#gbtn)"/>
<rect x="83" y="47" width="1" height="20" fill="#b4b4b4"/>
<rect x="152" y="47" width="20" height="20" fill="url(#gbtn)"/>
<rect x="151" y="47" width="1" height="20" fill="#b4b4b4"/>
<path d="M70 55h6l-3 3z" fill="#5a6cc8" shape-rendering="auto"/>
<path d="M159 58h6l-3 -3z" fill="#5a6cc8" shape-rendering="auto"/>
<rect x="1168" y="54" width="2" height="1" fill="#000"/>
<rect x="1168" y="87" width="2" height="1" fill="#000"/>
<rect x="1168" y="120" width="2" height="1" fill="#000"/>
<rect x="1168" y="153" width="2" height="1" fill="#000"/>
<rect x="1168" y="186" width="2" height="1" fill="#000"/>
<rect x="1168" y="219" width="2" height="1" fill="#000"/>
<rect x="1168" y="252" width="2" height="1" fill="#000"/>
<rect x="1168" y="285" width="2" height="1" fill="#000"/>
<rect x="1168" y="318" width="2" height="1" fill="#000"/>
<rect x="1168" y="351" width="2" height="1" fill="#000"/>
<rect x="1168" y="384" width="2" height="1" fill="#000"/>
<rect x="1168" y="417" width="2" height="1" fill="#000"/>
<rect x="1168" y="450" width="2" height="1" fill="#000"/>
<rect x="1168" y="483" width="2" height="1" fill="#000"/>
<rect x="1169" y="233" width="39" height="11" fill="#ff0000"/>
<rect x="1169" y="303" width="39" height="11" fill="#ff0000"/>
<rect x="1169" y="369" width="39" height="11" fill="#00ff00"/>
<rect x="1169" y="420" width="39" height="11" fill="#0000ff"/>
<rect x="1169" y="470" width="39" height="11" fill="#0000ff"/>
<rect x="1169" y="347" width="39" height="11" fill="#000"/>
<g clip-path="url(#cmacd)">
<rect x="4" y="521" width="3" height="35" fill="#c0c0c0"/>
<rect x="8" y="521" width="3" height="29" fill="#c0c0c0"/>
<rect x="12" y="521" width="3" height="24" fill="#c0c0c0"/>
<rect x="16" y="521" width="3" height="23" fill="#c0c0c0"/>
<rect x="20" y="521" width="3" height="22" fill="#c0c0c0"/>
<rect x="24" y="521" width="3" height="21" fill="#c0c0c0"/>
<rect x="28" y="521" width="3" height="21" fill="#c0c0c0"/>
<rect x="32" y="521" width="3" height="25" fill="#c0c0c0"/>
<rect x="36" y="521" width="3" height="31" fill="#c0c0c0"/>
<rect x="40" y="521" width="3" height="37" fill="#c0c0c0"/>
<rect x="44" y="521" width="3" height="42" fill="#c0c0c0"/>
<rect x="48" y="521" width="3" height="41" fill="#c0c0c0"/>
<rect x="52" y="521" width="3" height="42" fill="#c0c0c0"/>
<rect x="56" y="521" width="3" height="41" fill="#c0c0c0"/>
<rect x="60" y="521" width="3" height="42" fill="#c0c0c0"/>
<rect x="64" y="521" width="3" height="41" fill="#c0c0c0"/>
<rect x="68" y="521" width="3" height="41" fill="#c0c0c0"/>
<rect x="72" y="521" width="3" height="43" fill="#c0c0c0"/>
<rect x="76" y="521" width="3" height="46" fill="#c0c0c0"/>
<rect x="80" y="521" width="3" height="48" fill="#c0c0c0"/>
<rect x="84" y="521" width="3" height="46" fill="#c0c0c0"/>
<rect x="88" y="521" width="3" height="46" fill="#c0c0c0"/>
<rect x="92" y="521" width="3" height="46" fill="#c0c0c0"/>
<rect x="96" y="521" width="3" height="44" fill="#c0c0c0"/>
<rect x="100" y="521" width="3" height="40" fill="#c0c0c0"/>
<rect x="104" y="521" width="3" height="38" fill="#c0c0c0"/>
<rect x="108" y="521" width="3" height="37" fill="#c0c0c0"/>
<rect x="112" y="521" width="3" height="36" fill="#c0c0c0"/>
<rect x="116" y="521" width="3" height="34" fill="#c0c0c0"/>
<rect x="120" y="521" width="3" height="31" fill="#c0c0c0"/>
<rect x="124" y="521" width="3" height="30" fill="#c0c0c0"/>
<rect x="128" y="521" width="3" height="30" fill="#c0c0c0"/>
<rect x="132" y="521" width="3" height="31" fill="#c0c0c0"/>
<rect x="136" y="521" width="3" height="34" fill="#c0c0c0"/>
<rect x="140" y="521" width="3" height="36" fill="#c0c0c0"/>
<rect x="144" y="521" width="3" height="36" fill="#c0c0c0"/>
<rect x="148" y="521" width="3" height="36" fill="#c0c0c0"/>
<rect x="152" y="521" width="3" height="35" fill="#c0c0c0"/>
<rect x="156" y="521" width="3" height="32" fill="#c0c0c0"/>
<rect x="160" y="521" width="3" height="30" fill="#c0c0c0"/>
<rect x="164" y="521" width="3" height="28" fill="#c0c0c0"/>
<rect x="168" y="521" width="3" height="26" fill="#c0c0c0"/>
<rect x="172" y="521" width="3" height="25" fill="#c0c0c0"/>
<rect x="176" y="521" width="3" height="26" fill="#c0c0c0"/>
<rect x="180" y="521" width="3" height="26" fill="#c0c0c0"/>
<rect x="184" y="521" width="3" height="25" fill="#c0c0c0"/>
<rect x="188" y="521" width="3" height="24" fill="#c0c0c0"/>
<rect x="192" y="521" width="3" height="21" fill="#c0c0c0"/>
<rect x="196" y="521" width="3" height="18" fill="#c0c0c0"/>
<rect x="200" y="521" width="3" height="17" fill="#c0c0c0"/>
<rect x="204" y="521" width="3" height="17" fill="#c0c0c0"/>
<rect x="208" y="521" width="3" height="17" fill="#c0c0c0"/>
<rect x="212" y="521" width="3" height="15" fill="#c0c0c0"/>
<rect x="216" y="521" width="3" height="14" fill="#c0c0c0"/>
<rect x="220" y="521" width="3" height="16" fill="#c0c0c0"/>
<rect x="224" y="521" width="3" height="17" fill="#c0c0c0"/>
<rect x="228" y="521" width="3" height="18" fill="#c0c0c0"/>
<rect x="232" y="521" width="3" height="18" fill="#c0c0c0"/>
<rect x="236" y="521" width="3" height="23" fill="#c0c0c0"/>
<rect x="240" y="521" width="3" height="27" fill="#c0c0c0"/>
<rect x="244" y="521" width="3" height="29" fill="#c0c0c0"/>
<rect x="248" y="521" width="3" height="29" fill="#c0c0c0"/>
<rect x="252" y="521" width="3" height="30" fill="#c0c0c0"/>
<rect x="256" y="521" width="3" height="29" fill="#c0c0c0"/>
<rect x="260" y="521" width="3" height="27" fill="#c0c0c0"/>
<rect x="264" y="521" width="3" height="27" fill="#c0c0c0"/>
<rect x="268" y="521" width="3" height="26" fill="#c0c0c0"/>
<rect x="272" y="521" width="3" height="24" fill="#c0c0c0"/>
<rect x="276" y="521" width="3" height="21" fill="#c0c0c0"/>
<rect x="280" y="521" width="3" height="19" fill="#c0c0c0"/>
<rect x="284" y="521" width="3" height="15" fill="#c0c0c0"/>
<rect x="288" y="521" width="3" height="14" fill="#c0c0c0"/>
<rect x="292" y="521" width="3" height="15" fill="#c0c0c0"/>
<rect x="296" y="521" width="3" height="15" fill="#c0c0c0"/>
<rect x="300" y="521" width="3" height="12" fill="#c0c0c0"/>
<rect x="304" y="521" width="3" height="9" fill="#c0c0c0"/>
<rect x="308" y="521" width="3" height="8" fill="#c0c0c0"/>
<rect x="312" y="521" width="3" height="8" fill="#c0c0c0"/>
<rect x="316" y="521" width="3" height="6" fill="#c0c0c0"/>
<rect x="320" y="521" width="3" height="7" fill="#c0c0c0"/>
<rect x="324" y="521" width="3" height="10" fill="#c0c0c0"/>
<rect x="328" y="521" width="3" height="12" fill="#c0c0c0"/>
<rect x="332" y="521" width="3" height="10" fill="#c0c0c0"/>
<rect x="336" y="521" width="3" height="10" fill="#c0c0c0"/>
<rect x="340" y="521" width="3" height="10" fill="#c0c0c0"/>
<rect x="344" y="521" width="3" height="9" fill="#c0c0c0"/>
<rect x="348" y="521" width="3" height="9" fill="#c0c0c0"/>
<rect x="352" y="521" width="3" height="9" fill="#c0c0c0"/>
<rect x="356" y="521" width="3" height="11" fill="#c0c0c0"/>
<rect x="360" y="521" width="3" height="15" fill="#c0c0c0"/>
<rect x="364" y="521" width="3" height="17" fill="#c0c0c0"/>
<rect x="368" y="521" width="3" height="19" fill="#c0c0c0"/>
<rect x="372" y="521" width="3" height="20" fill="#c0c0c0"/>
<rect x="376" y="521" width="3" height="21" fill="#c0c0c0"/>
<rect x="380" y="521" width="3" height="23" fill="#c0c0c0"/>
<rect x="384" y="521" width="3" height="22" fill="#c0c0c0"/>
<rect x="388" y="521" width="3" height="19" fill="#c0c0c0"/>
<rect x="392" y="521" width="3" height="14" fill="#c0c0c0"/>
<rect x="396" y="521" width="3" height="12" fill="#c0c0c0"/>
<rect x="400" y="521" width="3" height="9" fill="#c0c0c0"/>
<rect x="404" y="521" width="3" height="5" fill="#c0c0c0"/>
<rect x="408" y="521" width="3" height="4" fill="#c0c0c0"/>
<rect x="412" y="521" width="3" height="3" fill="#c0c0c0"/>
<rect x="416" y="521" width="3" height="2" fill="#c0c0c0"/>
<rect x="420" y="521" width="3" height="1" fill="#c0c0c0"/>
<rect x="424" y="518" width="3" height="3" fill="#c0c0c0"/>
<rect x="428" y="518" width="3" height="3" fill="#c0c0c0"/>
<rect x="432" y="516" width="3" height="5" fill="#c0c0c0"/>
<rect x="436" y="516" width="3" height="5" fill="#c0c0c0"/>
<rect x="440" y="516" width="3" height="5" fill="#c0c0c0"/>
<rect x="444" y="511" width="3" height="10" fill="#c0c0c0"/>
<rect x="448" y="508" width="3" height="13" fill="#c0c0c0"/>
<rect x="452" y="502" width="3" height="19" fill="#c0c0c0"/>
<rect x="456" y="501" width="3" height="20" fill="#c0c0c0"/>
<rect x="460" y="501" width="3" height="20" fill="#c0c0c0"/>
<rect x="464" y="503" width="3" height="18" fill="#c0c0c0"/>
<rect x="468" y="504" width="3" height="17" fill="#c0c0c0"/>
<rect x="472" y="505" width="3" height="16" fill="#c0c0c0"/>
<rect x="476" y="506" width="3" height="15" fill="#c0c0c0"/>
<rect x="480" y="507" width="3" height="14" fill="#c0c0c0"/>
<rect x="484" y="507" width="3" height="14" fill="#c0c0c0"/>
<rect x="488" y="508" width="3" height="13" fill="#c0c0c0"/>
<rect x="492" y="507" width="3" height="14" fill="#c0c0c0"/>
<rect x="496" y="508" width="3" height="13" fill="#c0c0c0"/>
<rect x="500" y="509" width="3" height="12" fill="#c0c0c0"/>
<rect x="504" y="509" width="3" height="12" fill="#c0c0c0"/>
<rect x="508" y="508" width="3" height="13" fill="#c0c0c0"/>
<rect x="512" y="505" width="3" height="16" fill="#c0c0c0"/>
<rect x="516" y="503" width="3" height="18" fill="#c0c0c0"/>
<rect x="520" y="503" width="3" height="18" fill="#c0c0c0"/>
<rect x="524" y="499" width="3" height="22" fill="#c0c0c0"/>
<rect x="528" y="496" width="3" height="25" fill="#c0c0c0"/>
<rect x="532" y="495" width="3" height="26" fill="#c0c0c0"/>
<rect x="536" y="494" width="3" height="27" fill="#c0c0c0"/>
<rect x="540" y="493" width="3" height="28" fill="#c0c0c0"/>
<rect x="544" y="493" width="3" height="28" fill="#c0c0c0"/>
<rect x="548" y="495" width="3" height="26" fill="#c0c0c0"/>
<rect x="552" y="498" width="3" height="23" fill="#c0c0c0"/>
<rect x="556" y="501" width="3" height="20" fill="#c0c0c0"/>
<rect x="560" y="501" width="3" height="20" fill="#c0c0c0"/>
<rect x="564" y="502" width="3" height="19" fill="#c0c0c0"/>
<rect x="568" y="503" width="3" height="18" fill="#c0c0c0"/>
<rect x="572" y="505" width="3" height="16" fill="#c0c0c0"/>
<rect x="576" y="507" width="3" height="14" fill="#c0c0c0"/>
<rect x="580" y="510" width="3" height="11" fill="#c0c0c0"/>
<rect x="584" y="513" width="3" height="8" fill="#c0c0c0"/>
<rect x="588" y="516" width="3" height="5" fill="#c0c0c0"/>
<rect x="592" y="517" width="3" height="4" fill="#c0c0c0"/>
<rect x="596" y="521" width="3" height="1" fill="#c0c0c0"/>
<rect x="600" y="521" width="3" height="3" fill="#c0c0c0"/>
<rect x="604" y="521" width="3" height="7" fill="#c0c0c0"/>
<rect x="608" y="521" width="3" height="9" fill="#c0c0c0"/>
<rect x="612" y="521" width="3" height="11" fill="#c0c0c0"/>
<rect x="616" y="521" width="3" height="13" fill="#c0c0c0"/>
<rect x="620" y="521" width="3" height="16" fill="#c0c0c0"/>
<rect x="624" y="521" width="3" height="17" fill="#c0c0c0"/>
<rect x="628" y="521" width="3" height="18" fill="#c0c0c0"/>
<rect x="632" y="521" width="3" height="20" fill="#c0c0c0"/>
<rect x="636" y="521" width="3" height="21" fill="#c0c0c0"/>
<rect x="640" y="521" width="3" height="21" fill="#c0c0c0"/>
<rect x="644" y="521" width="3" height="21" fill="#c0c0c0"/>
<rect x="648" y="521" width="3" height="19" fill="#c0c0c0"/>
<rect x="652" y="521" width="3" height="17" fill="#c0c0c0"/>
<rect x="656" y="521" width="3" height="18" fill="#c0c0c0"/>
<rect x="660" y="521" width="3" height="23" fill="#c0c0c0"/>
<rect x="664" y="521" width="3" height="26" fill="#c0c0c0"/>
<rect x="668" y="521" width="3" height="30" fill="#c0c0c0"/>
<rect x="672" y="521" width="3" height="30" fill="#c0c0c0"/>
<rect x="676" y="521" width="3" height="27" fill="#c0c0c0"/>
<rect x="680" y="521" width="3" height="25" fill="#c0c0c0"/>
<rect x="684" y="521" width="3" height="25" fill="#c0c0c0"/>
<rect x="688" y="521" width="3" height="24" fill="#c0c0c0"/>
<rect x="692" y="521" width="3" height="22" fill="#c0c0c0"/>
<rect x="696" y="521" width="3" height="23" fill="#c0c0c0"/>
<rect x="700" y="521" width="3" height="23" fill="#c0c0c0"/>
<rect x="704" y="521" width="3" height="22" fill="#c0c0c0"/>
<rect x="708" y="521" width="3" height="20" fill="#c0c0c0"/>
<rect x="712" y="521" width="3" height="19" fill="#c0c0c0"/>
<rect x="716" y="521" width="3" height="20" fill="#c0c0c0"/>
<rect x="720" y="521" width="3" height="22" fill="#c0c0c0"/>
<rect x="724" y="521" width="3" height="25" fill="#c0c0c0"/>
<rect x="728" y="521" width="3" height="27" fill="#c0c0c0"/>
<rect x="732" y="521" width="3" height="31" fill="#c0c0c0"/>
<rect x="736" y="521" width="3" height="33" fill="#c0c0c0"/>
<rect x="740" y="521" width="3" height="34" fill="#c0c0c0"/>
<rect x="744" y="521" width="3" height="33" fill="#c0c0c0"/>
<rect x="748" y="521" width="3" height="32" fill="#c0c0c0"/>
<rect x="752" y="521" width="3" height="29" fill="#c0c0c0"/>
<rect x="756" y="521" width="3" height="27" fill="#c0c0c0"/>
<rect x="760" y="521" width="3" height="25" fill="#c0c0c0"/>
<rect x="764" y="521" width="3" height="24" fill="#c0c0c0"/>
<rect x="768" y="521" width="3" height="21" fill="#c0c0c0"/>
<rect x="772" y="521" width="3" height="20" fill="#c0c0c0"/>
<rect x="776" y="521" width="3" height="19" fill="#c0c0c0"/>
<rect x="780" y="521" width="3" height="17" fill="#c0c0c0"/>
<rect x="784" y="521" width="3" height="15" fill="#c0c0c0"/>
<rect x="788" y="521" width="3" height="13" fill="#c0c0c0"/>
<rect x="792" y="521" width="3" height="10" fill="#c0c0c0"/>
<rect x="796" y="521" width="3" height="10" fill="#c0c0c0"/>
<rect x="800" y="521" width="3" height="3" fill="#c0c0c0"/>
<rect x="804" y="519" width="3" height="2" fill="#c0c0c0"/>
<rect x="808" y="515" width="3" height="6" fill="#c0c0c0"/>
<rect x="812" y="510" width="3" height="11" fill="#c0c0c0"/>
<rect x="816" y="505" width="3" height="16" fill="#c0c0c0"/>
<rect x="820" y="503" width="3" height="18" fill="#c0c0c0"/>
<rect x="824" y="501" width="3" height="20" fill="#c0c0c0"/>
<rect x="828" y="502" width="3" height="19" fill="#c0c0c0"/>
<rect x="832" y="502" width="3" height="19" fill="#c0c0c0"/>
<rect x="836" y="503" width="3" height="18" fill="#c0c0c0"/>
<rect x="840" y="503" width="3" height="18" fill="#c0c0c0"/>
<rect x="844" y="503" width="3" height="18" fill="#c0c0c0"/>
<rect x="848" y="503" width="3" height="18" fill="#c0c0c0"/>
<rect x="852" y="502" width="3" height="19" fill="#c0c0c0"/>
<rect x="856" y="503" width="3" height="18" fill="#c0c0c0"/>
<rect x="860" y="504" width="3" height="17" fill="#c0c0c0"/>
<rect x="864" y="504" width="3" height="17" fill="#c0c0c0"/>
<rect x="868" y="504" width="3" height="17" fill="#c0c0c0"/>
<rect x="872" y="503" width="3" height="18" fill="#c0c0c0"/>
<rect x="876" y="503" width="3" height="18" fill="#c0c0c0"/>
<rect x="880" y="503" width="3" height="18" fill="#c0c0c0"/>
<rect x="884" y="504" width="3" height="17" fill="#c0c0c0"/>
<rect x="888" y="506" width="3" height="15" fill="#c0c0c0"/>
<rect x="892" y="509" width="3" height="12" fill="#c0c0c0"/>
<rect x="896" y="511" width="3" height="10" fill="#c0c0c0"/>
<rect x="900" y="510" width="3" height="11" fill="#c0c0c0"/>
<rect x="904" y="511" width="3" height="10" fill="#c0c0c0"/>
<rect x="908" y="510" width="3" height="11" fill="#c0c0c0"/>
<rect x="912" y="510" width="3" height="11" fill="#c0c0c0"/>
<rect x="916" y="512" width="3" height="9" fill="#c0c0c0"/>
<rect x="920" y="512" width="3" height="9" fill="#c0c0c0"/>
<rect x="924" y="513" width="3" height="8" fill="#c0c0c0"/>
<polyline points="5.5,563.6 9.5,562.3 13.5,560.4 17.5,558.0 21.5,555.3 25.5,552.5 29.5,549.8 33.5,547.8 37.5,547.0 41.5,547.2 45.5,548.5 49.5,550.2 53.5,552.2 57.5,554.3 61.5,556.5 65.5,558.5 69.5,560.2 73.5,561.4 77.5,562.4 81.5,563.0 85.5,563.5 89.5,563.9 93.5,564.5 97.5,564.7 101.5,564.6 105.5,564.3 109.5,563.6 113.5,562.5 117.5,561.0 121.5,559.3 125.5,557.6 129.5,555.8 133.5,554.6 137.5,554.0 141.5,553.9 145.5,553.9 149.5,554.2 153.5,554.5 157.5,554.7 161.5,554.8 165.5,554.5 169.5,554.0 173.5,553.1 177.5,552.0 181.5,550.8 185.5,549.6 189.5,548.3 193.5,547.0 197.5,545.7 201.5,544.5 205.5,543.4 209.5,542.5 213.5,541.3 217.5,540.0 221.5,539.0 225.5,538.3 229.5,538.0 233.5,537.9 237.5,538.6 241.5,539.7 245.5,541.1 249.5,542.7 253.5,544.4 257.5,545.9 261.5,547.0 265.5,548.0 269.5,548.9 273.5,549.1 277.5,548.4 281.5,547.3 285.5,545.8 289.5,544.0 293.5,542.5 297.5,541.2 301.5,539.5 305.5,537.7 309.5,535.8 313.5,534.4 317.5,533.0 321.5,532.0 325.5,531.6 329.5,531.2 333.5,530.7 337.5,530.5 341.5,530.6 345.5,530.7 349.5,530.8 353.5,531.2 357.5,531.7 361.5,532.2 365.5,532.7 369.5,533.7 373.5,534.8 377.5,535.9 381.5,537.4 385.5,538.8 389.5,539.9 393.5,540.2 397.5,539.9 401.5,539.0 405.5,537.5 409.5,535.7 413.5,533.8 417.5,531.5 421.5,529.0 425.5,526.5 429.5,524.6 433.5,522.8 437.5,521.3 441.5,520.1 445.5,518.5 449.5,516.7 453.5,514.4 457.5,512.2 461.5,510.3 465.5,508.7 469.5,507.3 473.5,506.1 477.5,505.0 481.5,504.5 485.5,504.4 489.5,505.0 493.5,505.8 497.5,506.6 501.5,507.3 505.5,507.8 509.5,508.1 513.5,508.0 517.5,507.6 521.5,507.1 525.5,506.1 529.5,504.9 533.5,503.4 537.5,501.8 541.5,500.0 545.5,498.4 549.5,497.4 553.5,496.8 557.5,496.6 561.5,496.9 565.5,497.5 569.5,498.4 573.5,499.6 577.5,501.1 581.5,503.0 585.5,505.0 589.5,506.9 593.5,508.8 597.5,510.9 601.5,513.4 605.5,516.1 609.5,519.0 613.5,521.8 617.5,524.4 621.5,527.1 625.5,529.6 629.5,532.0 633.5,534.3 637.5,536.2 641.5,537.8 645.5,539.0 649.5,539.8 653.5,540.3 657.5,540.5 661.5,541.2 665.5,542.1 669.5,543.2 673.5,544.2 677.5,544.9 681.5,545.5 685.5,546.1 689.5,546.8 693.5,547.3 697.5,547.3 701.5,546.9 705.5,546.0 709.5,544.9 713.5,544.0 717.5,543.5 721.5,543.2 725.5,543.2 729.5,543.8 733.5,544.6 737.5,545.8 741.5,547.1 745.5,548.5 749.5,549.9 753.5,550.8 757.5,551.4 761.5,551.5 765.5,551.1 769.5,550.0 773.5,548.5 777.5,546.8 781.5,545.1 785.5,543.3 789.5,541.5 793.5,539.6 797.5,537.9 801.5,535.7 805.5,533.1 809.5,530.2 813.5,526.9 817.5,523.3 821.5,519.7 825.5,516.1 829.5,512.8 833.5,509.6 837.5,507.2 841.5,505.5 845.5,504.1 849.5,503.3 853.5,502.9 857.5,502.9 861.5,503.2 865.5,503.4 869.5,503.7 873.5,503.6 877.5,503.6 881.5,503.7 885.5,503.9 889.5,504.3 893.5,505.0 897.5,505.7 901.5,506.4 905.5,507.1 909.5,508.0 913.5,508.8 917.5,509.7 921.5,510.6 925.5,511.3" fill="none" stroke="#ff0000" stroke-width="1"/>
</g>
<rect x="1168" y="521" width="1" height="1" fill="#000"/>
<rect x="1168" y="489" width="1" height="1" fill="#000"/>
<rect x="1168" y="571" width="1" height="1" fill="#000"/>
<g clip-path="url(#crsi)">
<line x1="6" y1="601.5" x2="1167" y2="601.5" stroke="#c0c0c0" stroke-width="1" stroke-dasharray="3 3"/>
<line x1="6" y1="635.5" x2="1167" y2="635.5" stroke="#c0c0c0" stroke-width="1" stroke-dasharray="3 3"/>
<polyline points="5.5,625.0 9.5,618.1 13.5,618.6 17.5,623.0 21.5,623.2 25.5,623.7 29.5,625.8 33.5,631.1 37.5,635.3 41.5,637.1 45.5,637.5 49.5,627.9 53.5,631.0 57.5,627.3 61.5,629.7 65.5,627.8 69.5,629.3 73.5,632.7 77.5,634.6 81.5,634.2 85.5,629.2 89.5,631.8 93.5,632.4 97.5,625.0 101.5,624.6 105.5,626.5 109.5,628.0 113.5,627.3 117.5,626.5 121.5,624.4 125.5,628.3 129.5,629.3 133.5,632.2 137.5,635.1 141.5,635.5 145.5,632.7 149.5,633.0 153.5,630.7 157.5,625.4 161.5,625.8 165.5,625.8 169.5,627.2 173.5,628.6 177.5,632.3 181.5,630.0 185.5,629.6 189.5,627.2 193.5,622.3 197.5,620.5 201.5,623.0 205.5,628.2 209.5,627.4 213.5,620.8 217.5,624.4 221.5,628.8 225.5,630.5 229.5,629.0 233.5,627.8 237.5,637.6 241.5,639.2 245.5,634.5 249.5,628.4 253.5,631.7 257.5,627.3 261.5,624.6 265.5,628.2 269.5,626.5 273.5,624.0 277.5,621.3 281.5,620.7 285.5,617.5 289.5,622.5 293.5,625.9 297.5,624.2 301.5,617.2 305.5,616.5 309.5,618.3 313.5,623.1 317.5,617.2 321.5,621.6 325.5,627.8 329.5,625.4 333.5,619.2 337.5,622.0 341.5,621.8 345.5,619.1 349.5,622.2 353.5,622.6 357.5,626.3 361.5,629.7 365.5,628.0 369.5,629.7 373.5,628.0 377.5,628.4 381.5,631.5 385.5,625.8 389.5,619.8 393.5,614.3 397.5,617.9 401.5,616.6 405.5,614.0 409.5,617.1 413.5,618.5 417.5,617.1 421.5,613.3 425.5,611.8 429.5,616.6 433.5,614.6 437.5,616.2 441.5,615.0 445.5,606.2 449.5,607.9 453.5,602.6 457.5,609.4 461.5,612.3 465.5,617.2 469.5,614.6 473.5,615.1 477.5,614.9 481.5,615.1 485.5,613.0 489.5,614.6 493.5,612.8 497.5,614.3 501.5,615.5 505.5,612.7 509.5,610.1 513.5,604.8 517.5,608.2 521.5,608.2 525.5,602.0 529.5,602.0 533.5,605.6 537.5,603.8 541.5,604.9 545.5,604.7 549.5,611.1 553.5,616.2 557.5,614.1 561.5,610.9 565.5,612.3 569.5,611.5 573.5,615.4 577.5,616.7 581.5,622.6 585.5,620.9 589.5,622.9 593.5,621.5 597.5,626.6 601.5,629.1 605.5,631.8 609.5,630.2 613.5,630.4 617.5,631.4 621.5,634.3 625.5,632.3 629.5,633.8 633.5,635.4 637.5,633.8 641.5,631.1 645.5,632.3 649.5,623.9 653.5,624.9 657.5,630.6 661.5,639.9 665.5,639.1 669.5,640.5 673.5,632.8 677.5,622.6 681.5,624.4 685.5,626.9 689.5,627.1 693.5,625.2 697.5,629.5 701.5,627.8 705.5,626.4 709.5,624.0 713.5,625.1 717.5,630.3 721.5,631.9 725.5,636.0 729.5,637.3 733.5,639.1 737.5,639.8 741.5,635.2 745.5,630.2 749.5,631.3 753.5,624.0 757.5,626.6 761.5,625.5 765.5,626.0 769.5,621.9 773.5,625.6 777.5,624.9 781.5,621.4 785.5,622.5 789.5,618.1 793.5,617.5 797.5,622.6 801.5,606.7 805.5,606.7 809.5,607.4 813.5,604.3 817.5,602.1 821.5,606.2 825.5,606.6 829.5,610.9 833.5,610.5 837.5,612.5 841.5,610.1 845.5,609.8 849.5,608.1 853.5,607.6 857.5,609.7 861.5,613.5 865.5,607.9 869.5,611.8 873.5,605.9 877.5,610.2 881.5,611.6 885.5,613.4 889.5,616.5 893.5,617.8 897.5,618.5 901.5,612.0 905.5,615.6 909.5,610.7 913.5,612.1 917.5,619.2 921.5,615.6 925.5,616.8" fill="none" stroke="#1e90ff" stroke-width="1"/>
</g>
<rect x="1168" y="575" width="1" height="1" fill="#000"/>
<rect x="1168" y="601" width="1" height="1" fill="#000"/>
<rect x="1168" y="635" width="1" height="1" fill="#000"/>
<rect x="1168" y="660" width="1" height="1" fill="#000"/>
<rect x="5" y="662" width="1" height="3" fill="#000"/>
<rect x="69" y="662" width="1" height="3" fill="#000"/>
<rect x="133" y="662" width="1" height="3" fill="#000"/>
<rect x="197" y="662" width="1" height="3" fill="#000"/>
<rect x="261" y="662" width="1" height="3" fill="#000"/>
<rect x="325" y="662" width="1" height="3" fill="#000"/>
<rect x="389" y="662" width="1" height="3" fill="#000"/>
<rect x="453" y="662" width="1" height="3" fill="#000"/>
<rect x="517" y="662" width="1" height="3" fill="#000"/>
<rect x="581" y="662" width="1" height="3" fill="#000"/>
<rect x="645" y="662" width="1" height="3" fill="#000"/>
<rect x="709" y="662" width="1" height="3" fill="#000"/>
<rect x="773" y="662" width="1" height="3" fill="#000"/>
<rect x="837" y="662" width="1" height="3" fill="#000"/>
<rect x="901" y="662" width="1" height="3" fill="#000"/>
<rect x="0" y="684" width="1208" height="25" fill="#f0f0f0"/>
<rect x="0" y="684" width="1208" height="1" fill="#000"/>
<rect x="0" y="685" width="1" height="19" fill="#a0a0a0"/><rect x="1" y="685" width="1" height="18" fill="#696969"/>
<rect x="0" y="704" width="1208" height="1" fill="#fbfbfb"/>
<rect x="0" y="707" width="1208" height="1" fill="#b4b4b4"/>
<rect x="0" y="708" width="1208" height="1" fill="#a0a0a0"/>
<rect x="394" y="683" width="104" height="20" fill="#ffffff"/>
<rect x="394" y="683" width="1" height="20" fill="#000"/>
<rect x="497" y="683" width="1" height="20" fill="#000"/>
<rect x="394" y="702" width="104" height="1" fill="#000"/>
<rect x="98" y="688" width="1" height="12" fill="#808080"/>
<rect x="202" y="688" width="1" height="12" fill="#808080"/>
<rect x="290" y="688" width="1" height="12" fill="#808080"/>
<rect x="574" y="688" width="1" height="12" fill="#808080"/>
<rect x="642" y="688" width="1" height="12" fill="#808080"/>
<rect x="718" y="688" width="1" height="12" fill="#808080"/>
<rect x="810" y="688" width="1" height="12" fill="#808080"/>
<rect x="902" y="688" width="1" height="12" fill="#808080"/>
<path d="M1182 693l4 -3.5v7z" fill="#a0a0a0" shape-rendering="auto"/>
<path d="M1206 693l-4 -3.5v7z" fill="#a0a0a0" shape-rendering="auto"/>
</svg>
<div class="t ns" style="left:-12.00px;top:5.47px;font-size:9.6px;color:#3a3a3a;font-weight:normal;letter-spacing:0px">M15</div><div class="t ns" style="left:15.60px;top:5.47px;font-size:9.6px;color:#3a3a3a;font-weight:normal;letter-spacing:0px">M30</div><div class="t ns" style="left:46.80px;top:5.47px;font-size:9.6px;color:#3a3a3a;font-weight:normal;letter-spacing:0px">H1</div><div class="t ns" style="left:73.80px;top:5.47px;font-size:9.6px;color:#3a3a3a;font-weight:normal;letter-spacing:0px">H4</div><div class="t ns" style="left:103.00px;top:5.47px;font-size:9.6px;color:#3a3a3a;font-weight:normal;letter-spacing:0px">D1</div><div class="t ns" style="left:131.20px;top:5.47px;font-size:9.6px;color:#3a3a3a;font-weight:normal;letter-spacing:0px">W1</div><div class="t ns" style="left:157.00px;top:5.47px;font-size:9.6px;color:#3a3a3a;font-weight:normal;letter-spacing:0px">MN</div><div class="t" style="left:19.40px;top:29.70px;font-size:9.8px;color:#000;font-weight:normal;letter-spacing:0px">USDCNH,Daily</div><div class="t" style="left:91.90px;top:29.70px;font-size:9.8px;color:#000;font-weight:normal;letter-spacing:-0.27px">6.47553 6.47597 6.46841 6.47342</div><div class="t" style="left:1173.10px;top:49.70px;font-size:9.8px;color:#000;font-weight:normal;letter-spacing:-0.4px">6.76840</div><div class="t" style="left:1173.10px;top:82.70px;font-size:9.8px;color:#000;font-weight:normal;letter-spacing:-0.4px">6.73515</div><div class="t" style="left:1173.10px;top:115.70px;font-size:9.8px;color:#000;font-weight:normal;letter-spacing:-0.4px">6.70285</div><div class="t" style="left:1173.10px;top:148.70px;font-size:9.8px;color:#000;font-weight:normal;letter-spacing:-0.4px">6.67055</div><div class="t" style="left:1173.10px;top:181.70px;font-size:9.8px;color:#000;font-weight:normal;letter-spacing:-0.4px">6.63730</div><div class="t" style="left:1173.10px;top:214.70px;font-size:9.8px;color:#000;font-weight:normal;letter-spacing:-0.4px">6.60500</div><div class="t" style="left:1173.10px;top:247.70px;font-size:9.8px;color:#000;font-weight:normal;letter-spacing:-0.4px">6.57175</div><div class="t" style="left:1173.10px;top:280.70px;font-size:9.8px;color:#000;font-weight:normal;letter-spacing:-0.4px">6.53945</div><div class="t" style="left:1173.10px;top:313.70px;font-size:9.8px;color:#000;font-weight:normal;letter-spacing:-0.4px">6.50715</div><div class="t" style="left:1173.10px;top:379.70px;font-size:9.8px;color:#000;font-weight:normal;letter-spacing:-0.4px">6.44160</div><div class="t" style="left:1173.10px;top:412.70px;font-size:9.8px;color:#000;font-weight:normal;letter-spacing:-0.4px">6.40835</div><div class="t" style="left:1173.10px;top:445.70px;font-size:9.8px;color:#000;font-weight:normal;letter-spacing:-0.4px">6.37605</div><div class="t" style="left:1173.10px;top:478.70px;font-size:9.8px;color:#000;font-weight:normal;letter-spacing:-0.4px">6.34375</div><div class="t" style="left:1173.10px;top:233.70px;font-size:9.8px;color:#fff;font-weight:normal;letter-spacing:-0.4px">6.58499</div><div class="t" style="left:1173.10px;top:303.70px;font-size:9.8px;color:#fff;font-weight:normal;letter-spacing:-0.4px">6.51582</div><div class="t" style="left:1173.10px;top:369.70px;font-size:9.8px;color:#fff;font-weight:normal;letter-spacing:-0.4px">6.45059</div><div class="t" style="left:1173.10px;top:420.70px;font-size:9.8px;color:#fff;font-weight:normal;letter-spacing:-0.4px">6.40019</div><div class="t" style="left:1173.10px;top:470.70px;font-size:9.8px;color:#fff;font-weight:normal;letter-spacing:-0.4px">6.35078</div><div class="t" style="left:1173.10px;top:347.70px;font-size:9.8px;color:#fff;font-weight:normal;letter-spacing:-0.4px">6.47342</div><div class="t" style="left:9.30px;top:493.20px;font-size:9.8px;color:#000;font-weight:normal;letter-spacing:-0.23px">MACD(12,26,9) 0.006529 0.008444</div><div class="t" style="left:1171.20px;top:490.70px;font-size:9.8px;color:#000;font-weight:normal;letter-spacing:-0.4px">0.025609</div><div class="t" style="left:1171.20px;top:516.70px;font-size:9.8px;color:#000;font-weight:normal;letter-spacing:-0.4px">0.00</div><div class="t" style="left:1171.20px;top:561.70px;font-size:9.8px;color:#000;font-weight:normal;letter-spacing:-0.4px">-0.040380</div><div class="t" style="left:9.20px;top:578.20px;font-size:9.8px;color:#000;font-weight:normal;letter-spacing:-0.28px">RSI(14) 52.4194</div><div class="t" style="left:1170.60px;top:576.70px;font-size:9.8px;color:#000;font-weight:normal;letter-spacing:-0.4px">100</div><div class="t" style="left:1170.60px;top:596.70px;font-size:9.8px;color:#000;font-weight:normal;letter-spacing:-0.4px">70</div><div class="t" style="left:1170.60px;top:630.70px;font-size:9.8px;color:#000;font-weight:normal;letter-spacing:-0.4px">30</div><div class="t" style="left:1170.60px;top:649.70px;font-size:9.8px;color:#000;font-weight:normal;letter-spacing:-0.4px">0</div><div class="t" style="left:4.00px;top:665.70px;font-size:9.8px;color:#000;font-weight:normal;letter-spacing:-0.3px">27 Oct 2020</div><div class="t" style="left:68.00px;top:665.70px;font-size:9.8px;color:#000;font-weight:normal;letter-spacing:-0.3px">14 Nov 2020</div><div class="t" style="left:132.00px;top:665.70px;font-size:9.8px;color:#000;font-weight:normal;letter-spacing:-0.3px">3 Dec 2020</div><div class="t" style="left:196.00px;top:665.70px;font-size:9.8px;color:#000;font-weight:normal;letter-spacing:-0.3px">22 Dec 2020</div><div class="t" style="left:260.00px;top:665.70px;font-size:9.8px;color:#000;font-weight:normal;letter-spacing:-0.3px">11 Jan 2021</div><div class="t" style="left:324.00px;top:665.70px;font-size:9.8px;color:#000;font-weight:normal;letter-spacing:-0.3px">29 Jan 2021</div><div class="t" style="left:388.00px;top:665.70px;font-size:9.8px;color:#000;font-weight:normal;letter-spacing:-0.3px">17 Feb 2021</div><div class="t" style="left:452.00px;top:665.70px;font-size:9.8px;color:#000;font-weight:normal;letter-spacing:-0.3px">8 Mar 2021</div><div class="t" style="left:516.00px;top:665.70px;font-size:9.8px;color:#000;font-weight:normal;letter-spacing:-0.3px">26 Mar 2021</div><div class="t" style="left:580.00px;top:665.70px;font-size:9.8px;color:#000;font-weight:normal;letter-spacing:-0.3px">14 Apr 2021</div><div class="t" style="left:644.00px;top:665.70px;font-size:9.8px;color:#000;font-weight:normal;letter-spacing:-0.3px">3 May 2021</div><div class="t" style="left:708.00px;top:665.70px;font-size:9.8px;color:#000;font-weight:normal;letter-spacing:-0.3px">21 May 2021</div><div class="t" style="left:772.00px;top:665.70px;font-size:9.8px;color:#000;font-weight:normal;letter-spacing:-0.3px">9 Jun 2021</div><div class="t" style="left:836.00px;top:665.70px;font-size:9.8px;color:#000;font-weight:normal;letter-spacing:-0.3px">28 Jun 2021</div><div class="t" style="left:900.00px;top:665.70px;font-size:9.8px;color:#000;font-weight:normal;letter-spacing:-0.3px">16 Jul 2021</div><div class="t" style="left:17.80px;top:688.84px;font-size:12px;color:#6d6d6d;font-weight:normal;letter-spacing:-0.15px">EURUSD,H4</div><div class="t" style="left:109.00px;top:688.84px;font-size:12px;color:#6d6d6d;font-weight:normal;letter-spacing:0.091px">AUDUSD,Daily</div><div class="t" style="left:211.00px;top:688.84px;font-size:12px;color:#6d6d6d;font-weight:normal;letter-spacing:0.125px">USDCHF,H4</div><div class="t" style="left:299.70px;top:688.84px;font-size:12px;color:#6d6d6d;font-weight:normal;letter-spacing:0.118px">USDCAD,Daily</div><div class="t" style="left:403.80px;top:688.84px;font-size:12px;color:#000;font-weight:normal;letter-spacing:0.164px">USDCNH,Daily</div><div class="t" style="left:509.00px;top:688.84px;font-size:12px;color:#6d6d6d;font-weight:normal;letter-spacing:0.357px">UKOil,H1</div><div class="t" style="left:583.00px;top:688.84px;font-size:12px;color:#6d6d6d;font-weight:normal;letter-spacing:0.267px">DJ30,H1</div><div class="t" style="left:653.00px;top:688.84px;font-size:12px;color:#6d6d6d;font-weight:normal;letter-spacing:0.083px">USDX,H1</div><div class="t" style="left:728.30px;top:688.84px;font-size:12px;color:#6d6d6d;font-weight:normal;letter-spacing:0.088px">XAUUSD,H1</div><div class="t" style="left:822.30px;top:688.84px;font-size:12px;color:#6d6d6d;font-weight:normal;letter-spacing:-0.188px">GBPUSD,H1</div><div class="t" style="left:19.40px;top:52.52px;font-size:11.2px;color:#ffe8e8;font-weight:normal;letter-spacing:-0.17px">SELL</div><div class="t" style="left:187.50px;top:52.52px;font-size:11.2px;color:#ffe8e8;font-weight:normal;letter-spacing:0.4px">BUY</div><div class="t" style="left:123.30px;top:50.42px;font-size:12.5px;color:#000;font-weight:normal;letter-spacing:0px">3.00</div><div class="t" style="left:28.30px;top:87.84px;font-size:12px;color:#fff;font-weight:bold;letter-spacing:0.1px">6.47</div><div class="t ns" style="left:56.00px;top:69.22px;font-size:34px;color:#fff;font-weight:normal;letter-spacing:-1.6px">34</div><div class="t" style="left:138.30px;top:87.84px;font-size:12px;color:#fff;font-weight:bold;letter-spacing:0.1px">6.47</div><div class="t ns" style="left:166.00px;top:69.22px;font-size:34px;color:#fff;font-weight:normal;letter-spacing:-1.2px">60</div><div class="t" style="left:95.30px;top:71.84px;font-size:12px;color:#fff;font-weight:bold;letter-spacing:0px">5</div><div class="t" style="left:206.30px;top:71.84px;font-size:12px;color:#fff;font-weight:bold;letter-spacing:0px">5</div>
</body></html>
